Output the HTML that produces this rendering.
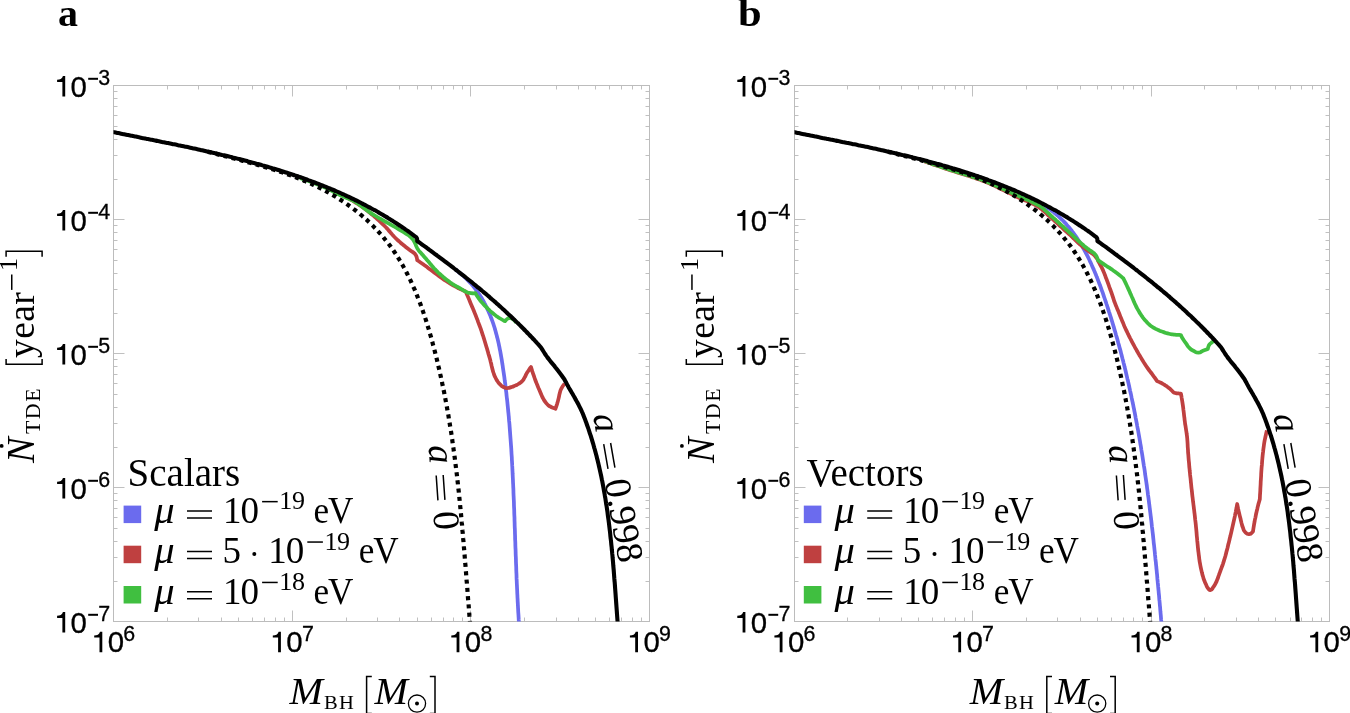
<!DOCTYPE html>
<html lang="en">
<head>
<meta charset="utf-8">
<title>TDE rate vs black hole mass</title>
<style>
html,body{margin:0;padding:0;background:#fff;}
body{width:1350px;height:713px;overflow:hidden;font-family:"Liberation Serif",serif;}
svg{display:block;will-change:transform;}
text{fill:#000;}
</style>
</head>
<body>
<svg width="1350" height="713" viewBox="0 0 1350 713">
<defs>
<clipPath id="clipL"><rect x="113.5" y="85.5" width="536" height="536"/></clipPath>
<clipPath id="clipR"><rect x="794.5" y="85.5" width="535" height="536"/></clipPath>
</defs>
<rect width="1350" height="713" fill="#fff"/>
<text transform="translate(57.9 25.8) scale(1.08 1)" font-family="'Liberation Serif', serif" font-size="37" font-weight="bold">a</text>
<text transform="translate(738 25.8) scale(1.15 1)" font-family="'Liberation Serif', serif" font-size="37" font-weight="bold">b</text>
<path d="M167.5 621.5v-4M167.5 85.5v4M198.5 621.5v-4M198.5 85.5v4M221.5 621.5v-4M221.5 85.5v4M238.5 621.5v-4M238.5 85.5v4M252.5 621.5v-4M252.5 85.5v4M264.5 621.5v-4M264.5 85.5v4M275.5 621.5v-4M275.5 85.5v4M284.5 621.5v-4M284.5 85.5v4M292.5 621.5v-11M292.5 85.5v11M346.5 621.5v-4M346.5 85.5v4M377.5 621.5v-4M377.5 85.5v4M399.5 621.5v-4M399.5 85.5v4M417.5 621.5v-4M417.5 85.5v4M431.5 621.5v-4M431.5 85.5v4M443.5 621.5v-4M443.5 85.5v4M453.5 621.5v-4M453.5 85.5v4M462.5 621.5v-4M462.5 85.5v4M470.5 621.5v-11M470.5 85.5v11M524.5 621.5v-4M524.5 85.5v4M556.5 621.5v-4M556.5 85.5v4M578.5 621.5v-4M578.5 85.5v4M595.5 621.5v-4M595.5 85.5v4M609.5 621.5v-4M609.5 85.5v4M621.5 621.5v-4M621.5 85.5v4M632.5 621.5v-4M632.5 85.5v4M641.5 621.5v-4M641.5 85.5v4M113.5 581.5h4M649.5 581.5h-4M113.5 557.5h4M649.5 557.5h-4M113.5 541.5h4M649.5 541.5h-4M113.5 528.5h4M649.5 528.5h-4M113.5 517.5h4M649.5 517.5h-4M113.5 508.5h4M649.5 508.5h-4M113.5 500.5h4M649.5 500.5h-4M113.5 493.5h4M649.5 493.5h-4M113.5 487.5h11M649.5 487.5h-11M113.5 447.5h4M649.5 447.5h-4M113.5 423.5h4M649.5 423.5h-4M113.5 407.5h4M649.5 407.5h-4M113.5 394.5h4M649.5 394.5h-4M113.5 383.5h4M649.5 383.5h-4M113.5 374.5h4M649.5 374.5h-4M113.5 366.5h4M649.5 366.5h-4M113.5 359.5h4M649.5 359.5h-4M113.5 353.5h11M649.5 353.5h-11M113.5 313.5h4M649.5 313.5h-4M113.5 289.5h4M649.5 289.5h-4M113.5 273.5h4M649.5 273.5h-4M113.5 260.5h4M649.5 260.5h-4M113.5 249.5h4M649.5 249.5h-4M113.5 240.5h4M649.5 240.5h-4M113.5 232.5h4M649.5 232.5h-4M113.5 225.5h4M649.5 225.5h-4M113.5 219.5h11M649.5 219.5h-11M113.5 179.5h4M649.5 179.5h-4M113.5 155.5h4M649.5 155.5h-4M113.5 139.5h4M649.5 139.5h-4M113.5 126.5h4M649.5 126.5h-4M113.5 115.5h4M649.5 115.5h-4M113.5 106.5h4M649.5 106.5h-4M113.5 98.5h4M649.5 98.5h-4M113.5 91.5h4M649.5 91.5h-4" fill="none" stroke="#c0c0c0" stroke-width="1"/>
<rect x="113.5" y="85.5" width="536" height="536" fill="none" stroke="#bcbcbc" stroke-width="1"/>
<g clip-path="url(#clipL)" fill="none" stroke-linejoin="round" stroke-linecap="butt">
<path d="M455 269.3C456.2 270.2 456.2 270.1 458.5 271.9C460.7 273.7 459.6 272.8 461.8 274.6C463.9 276.4 462.9 275.5 464.9 277.4C466.9 279.3 465.9 278.3 467.9 280.3C469.8 282.2 468.8 281.2 470.7 283.3C472.5 285.3 471.6 284.3 473.3 286.3C475 288.4 474.2 287.3 475.8 289.5C477.4 291.6 476.6 290.5 478.1 292.7C479.6 294.9 478.9 293.8 480.3 296C481.7 298.2 481.1 297.1 482.4 299.4C483.7 301.6 483.1 300.5 484.3 302.8C485.6 305.1 485 304 486.1 306.3C487.3 308.7 486.7 307.5 487.8 309.9C488.9 312.3 488.4 311.1 489.4 313.5C490.4 315.9 489.9 314.7 490.9 317.2C491.9 319.7 491.4 318.4 492.3 320.9C493.2 323.4 492.7 322.2 493.6 324.7C494.4 327.2 494 325.9 494.8 328.5C495.5 331.1 495.2 329.8 495.9 332.4C496.6 334.9 496.2 333.6 496.9 336.2C497.6 338.9 497.2 337.5 497.9 340.2C498.5 342.8 498.2 341.5 498.8 344.1C499.3 346.8 499.1 345.4 499.6 348.1C500.1 350.8 499.9 349.4 500.4 352.1C500.9 354.8 500.6 353.4 501.1 356.1C501.6 358.8 501.3 357.5 501.8 360.1C502.2 362.8 502 361.5 502.4 364.2C502.9 366.9 502.6 365.5 503 368.2C503.4 370.9 503.2 369.6 503.6 372.3C504 375 503.8 373.6 504.2 376.3C504.6 379 504.4 377.7 504.7 380.4C505.1 383.1 504.9 381.7 505.3 384.4C505.6 387.1 505.4 385.8 505.8 388.5C506.1 391.2 505.9 389.8 506.3 392.5C506.6 395.2 506.4 393.9 506.7 396.6C507 399.3 506.9 397.9 507.2 400.6C507.5 403.3 507.3 402 507.6 404.7C507.9 407.4 507.7 406 508 408.7C508.3 411.4 508.1 410.1 508.4 412.8C508.7 415.5 508.5 414.1 508.8 416.8C509 419.5 508.9 418.2 509.1 420.9C509.4 423.6 509.3 422.2 509.5 424.9C509.7 427.6 509.6 426.3 509.8 429C510 431.7 509.9 430.3 510.1 433C510.3 435.7 510.2 434.4 510.4 437.1C510.6 439.8 510.5 438.4 510.7 441.1C510.9 443.8 510.8 442.5 511 445.2C511.2 447.9 511.1 446.5 511.3 449.2C511.4 451.9 511.4 450.6 511.5 453.3C511.7 456 511.6 454.6 511.8 457.3C511.9 460 511.8 458.7 512 461.4C512.1 464.1 512.1 462.7 512.2 465.4C512.4 468.1 512.3 466.8 512.4 469.5C512.6 472.2 512.5 470.8 512.6 473.5C512.8 476.3 512.7 474.9 512.8 477.6C513 480.3 512.9 479 513 481.7C513.1 484.4 513.1 483 513.2 485.7C513.3 488.4 513.3 487.1 513.4 489.8C513.5 492.5 513.4 491.1 513.5 493.8C513.6 496.5 513.6 495.2 513.7 497.9C513.8 500.6 513.8 499.2 513.9 501.9C514 504.6 513.9 503.3 514 506C514.1 508.7 514.1 507.3 514.2 510C514.3 512.7 514.2 511.4 514.3 514.1C514.4 516.8 514.4 515.4 514.5 518.1C514.5 520.8 514.5 519.5 514.6 522.2C514.7 524.9 514.6 523.5 514.7 526.2C514.8 528.9 514.8 527.6 514.9 530.3C515 533 514.9 531.6 515 534.3C515.1 537 515.1 535.7 515.1 538.4C515.2 541.1 515.2 539.7 515.3 542.4C515.4 545.1 515.3 543.8 515.4 546.5C515.5 549.2 515.5 547.8 515.6 550.5C515.7 553.3 515.6 551.9 515.7 554.6C515.8 557.3 515.8 556 515.9 558.7C516 561.4 515.9 560 516 562.7C516.1 565.4 516.1 564.1 516.2 566.8C516.3 569.5 516.2 568.1 516.3 570.8C516.4 573.5 516.4 572.2 516.5 574.9C516.6 577.6 516.5 576.2 516.6 578.9C516.8 581.6 516.7 580.3 516.8 583C516.9 585.7 516.9 584.3 517 587C517.1 589.7 517.1 588.4 517.2 591.1C517.3 593.8 517.2 592.4 517.4 595.1C517.5 597.8 517.4 596.5 517.6 599.2C517.7 601.9 517.6 600.5 517.8 603.2C517.9 605.9 517.9 604.6 518 607.3C518.2 610 518.1 608.6 518.2 611.3C518.4 614 518.3 612.7 518.5 615.4C518.6 618.1 518.6 616.7 518.7 619.4C518.9 622.1 518.9 622.1 519 623.5" stroke="#6b6bee" stroke-width="3.75"/>
<path d="M340 194C341.3 194.6 341.3 194.6 343.8 195.9C346.3 197.2 345.1 196.5 347.6 197.9C350.1 199.2 348.8 198.5 351.3 200C353.7 201.4 352.5 200.6 354.9 202.1C357.3 203.6 356.1 202.9 358.5 204.4C360.8 206 359.6 205.2 361.9 206.8C364.3 208.5 363.1 207.7 365.4 209.3C367.7 211 366.5 210.2 368.8 211.9C371 213.6 369.9 212.7 372.1 214.6C374.2 216.4 373.2 215.5 375.3 217.4C377.4 219.2 376.3 218.3 378.4 220.2C380.5 222.1 379.5 221.1 381.5 223.1C383.6 225 382.6 224 384.6 226C386.6 228 385.6 227 387.5 229.1C389.4 231.2 388.5 230.1 390.3 232.3C392.2 234.4 391.2 233.4 393.1 235.5C395 237.6 394 236.6 396 238.5C398 240.5 397 239.5 399.1 241.4C401.3 243.3 400.2 242.4 402.4 244.2C404.5 246 403.4 245.1 405.7 246.9C407.9 248.6 406.8 247.8 409 249.4C411.3 251.1 411.3 251.1 412.5 251.9C413.1 252.3 413.2 252.3 414.2 253.2C415.2 254.1 414.8 253.7 415.5 254.7C416.2 255.7 415.9 255.2 416.3 256.3C416.8 257.5 416.6 256.9 416.9 258.2C417.2 259.5 417.1 259.5 417.2 260.2C418.4 261 418.4 261 420.9 262.7C423.3 264.4 422.1 263.5 424.5 265.3C426.9 267 425.7 266.1 428.1 267.9C430.4 269.7 429.2 268.8 431.6 270.6C434 272.4 432.8 271.5 435.2 273.2C437.6 275 436.4 274.1 438.8 275.9C441.2 277.6 440 276.8 442.4 278.5C444.8 280.2 443.6 279.4 446.1 281C448.5 282.6 447.3 281.9 449.8 283.4C452.3 284.9 451 284.1 453.6 285.6C456.2 287 454.9 286.3 457.5 287.7C460.2 289 458.8 288.4 461.5 289.6C464.2 290.9 464.2 290.9 465.6 291.5C466.2 292.8 466.2 292.8 467.3 295.3C468.4 297.8 467.8 296.6 468.9 299.1C470 301.6 469.4 300.4 470.5 302.9C471.6 305.5 471.1 304.2 472.1 306.7C473.2 309.3 472.7 308 473.7 310.6C474.8 313.1 474.2 311.8 475.3 314.4C476.3 317 475.8 315.7 476.8 318.3C477.8 320.8 477.3 319.5 478.2 322.1C479.2 324.7 478.7 323.4 479.7 326C480.6 328.6 480.2 327.3 481.1 329.9C482 332.5 481.5 331.2 482.4 333.8C483.3 336.5 482.8 335.1 483.7 337.8C484.5 340.4 484.1 339.1 484.9 341.7C485.7 344.4 485.3 343 486.1 345.7C486.9 348.3 486.5 347 487.3 349.7C488 352.3 487.7 351 488.4 353.7C489.2 356.3 488.8 355 489.6 357.6C490.3 360.3 490 358.9 490.6 361.6C491.3 364.3 491 363 491.6 365.7C492.3 368.4 491.9 367.1 492.6 369.8C493.3 372.4 492.9 371.1 493.8 373.7C494.7 376.3 494.1 375 495.4 377.5C496.6 380 496 379 497.5 381.3C499.1 383.6 498.1 382.5 500.1 384.4C502.1 386.3 501 385.8 503.4 387C505.8 388.2 504.7 388 507.3 388.1C509.9 388.1 508.7 387.9 511.3 387.1C514 386.3 512.7 386.7 515.2 385.6C517.8 384.4 516.7 385.1 519 383.6C521.4 382 520.5 383 522.3 381C524.2 379 523.1 380 524.5 377.6C525.9 375.3 525.1 376.3 526.4 373.9C527.8 371.5 527.1 372.7 528.6 370.4C530.1 368.1 530.2 368.1 531 367C531.4 368.5 531.4 368.5 532.3 371.4C533.3 374.3 532.8 372.8 533.8 375.7C534.8 378.6 534.3 377.2 535.3 380C536.4 382.9 535.8 381.4 537 384.3C538.1 387.1 537.6 385.7 538.7 388.5C539.9 391.3 539.3 389.9 540.5 392.7C541.7 395.5 541 394.2 542.3 396.9C543.7 399.7 542.9 398.3 544.6 400.9C546.3 403.4 545.4 402.5 547.5 404.5C549.7 406.6 548.4 405.6 551.1 407C553.8 408.4 554 408.1 555.5 408.7C556.1 407 556.1 407 557.2 403.6C558.2 400.1 557.7 401.9 558.6 398.4C559.5 394.9 558.8 396.5 559.8 393C560.8 389.6 560 391.2 561.6 388.1C563.2 384.9 563.7 385.1 564.7 383.6" stroke="#bf4040" stroke-width="3.75"/>
<path d="M300 178C301.3 178.5 301.3 178.4 303.9 179.4C306.5 180.3 305.2 179.8 307.8 180.8C310.4 181.8 309.1 181.3 311.7 182.3C314.2 183.3 313 182.8 315.5 183.8C318.1 184.8 316.8 184.3 319.4 185.3C321.9 186.4 320.7 185.8 323.2 186.9C325.7 188 324.5 187.4 327 188.6C329.5 189.8 328.2 189.2 330.7 190.4C333.2 191.6 331.9 191 334.4 192.3C336.9 193.5 335.6 192.9 338.1 194.1C340.6 195.3 339.3 194.7 341.9 195.8C344.4 196.9 343.1 196.4 345.7 197.4C348.3 198.5 347 197.9 349.5 199C352.1 200.2 350.8 199.5 353.3 200.8C355.7 202.1 354.5 201.4 356.8 202.9C359.1 204.3 357.9 203.6 360.2 205.2C362.4 206.9 361.3 206.1 363.5 207.7C365.7 209.4 364.6 208.6 366.8 210.3C369 211.9 367.9 211.1 370.2 212.6C372.5 214.2 371.4 213.4 373.7 214.8C376.1 216.3 374.9 215.6 377.3 217C379.6 218.4 378.4 217.7 380.8 219C383.2 220.4 382 219.7 384.4 221.1C386.8 222.5 385.6 221.8 388 223.2C390.4 224.5 389.2 223.9 391.6 225.2C394 226.6 392.8 225.9 395.2 227.2C397.6 228.6 396.5 227.9 398.8 229.3C401.2 230.7 400 230 402.4 231.4C404.8 232.8 403.6 232.1 405.9 233.6C408.2 235 408.2 235.1 409.4 235.8C410.4 236.8 410.7 236.7 412.4 238.9C414.2 241.1 413.4 240 414.7 242.5C416.1 245 415.2 243.9 416.4 246.5C417.7 249.1 416.8 247.9 418.5 250.2C420.1 252.5 419.5 251.3 421.4 253.4C423.3 255.6 422.3 254.5 424.2 256.7C426.1 258.9 425.2 257.8 427 260C428.9 262.1 428 261 429.8 263.2C431.7 265.4 430.7 264.4 432.6 266.6C434.5 268.7 433.5 267.7 435.5 269.7C437.4 271.8 436.4 270.8 438.5 272.8C440.6 274.7 439.6 273.8 441.7 275.7C443.9 277.6 442.8 276.7 445 278.5C447.2 280.3 446.1 279.4 448.4 281.1C450.7 282.8 449.5 282 451.9 283.6C454.3 285.1 453.1 284.4 455.6 285.8C458.1 287.3 456.8 286.5 459.4 287.9C461.9 289.4 460.6 288.7 463.1 290.2C465.7 291.6 464.4 291.3 467 292.3C469.6 293.3 468.2 292.8 471 293.1C473.9 293.4 473.9 293.2 475.4 293.2C476.2 294.5 476.1 294.6 477.9 297.1C479.6 299.6 478.7 298.4 480.5 300.8C482.4 303.2 481.4 302 483.5 304.3C485.5 306.6 484.5 305.4 486.7 307.6C488.8 309.8 487.7 308.7 490 310.8C492.3 312.8 491.1 311.9 493.5 313.8C495.8 315.7 494.6 314.8 497.1 316.5C499.6 318.2 498.3 317.4 501 319C503.6 320.5 503.7 320.5 505 321.2C505.7 320.5 505.7 320 507.2 319C508.7 318 508 318.3 509.4 318.1C510.9 317.9 510.2 317.9 511.6 318.5C513.1 319.1 512.4 318.6 513.8 319.9C515.3 321.2 515.3 321.6 516 322.5" stroke="#40bf40" stroke-width="3.75"/>
<path d="M203.4 150.6C204.7 150.9 204.7 150.9 207.2 151.6C209.7 152.3 208.5 151.9 211 152.6C213.6 153.2 212.3 152.9 214.8 153.6C217.4 154.2 216.1 153.9 218.7 154.6C221.3 155.2 220 154.9 222.6 155.5C225.1 156.2 223.8 155.9 226.4 156.5C229 157.2 227.7 156.9 230.3 157.5C232.9 158.2 231.6 157.9 234.2 158.5C236.8 159.2 235.5 158.9 238.1 159.5C240.7 160.2 239.4 159.9 242 160.6C244.6 161.3 243.3 160.9 246 161.6C248.6 162.3 247.3 162 249.9 162.7C252.5 163.4 251.2 163 253.8 163.8C256.4 164.5 255.1 164.1 257.7 164.9C260.3 165.6 259 165.2 261.6 166C264.2 166.8 262.9 166.4 265.5 167.2C268.1 167.9 266.8 167.5 269.4 168.3C272 169.1 270.7 168.7 273.3 169.5C275.9 170.4 274.6 170 277.2 170.8C279.8 171.6 278.5 171.2 281.1 172.1C283.7 173 282.4 172.5 284.9 173.4C287.5 174.3 286.2 173.8 288.8 174.8C291.3 175.7 290.1 175.2 292.6 176.2C295.1 177.1 293.9 176.6 296.4 177.6C298.9 178.6 297.7 178.1 300.2 179.1C302.7 180.1 301.4 179.6 303.9 180.7C306.4 181.7 305.2 181.2 307.7 182.3C310.1 183.4 308.9 182.8 311.4 183.9C313.8 185.1 312.6 184.5 315 185.7C317.5 186.8 316.3 186.2 318.7 187.4C321.1 188.6 319.9 188 322.3 189.3C324.7 190.5 323.5 189.9 325.9 191.2C328.2 192.4 327.1 191.8 329.4 193.1C331.8 194.4 330.6 193.8 332.9 195.1C335.2 196.5 334.1 195.8 336.4 197.2C338.7 198.6 337.5 197.9 339.8 199.4C342.1 200.8 340.9 200.1 343.2 201.6C345.4 203.1 344.3 202.3 346.5 203.8C348.7 205.4 347.6 204.6 349.8 206.2C351.9 207.7 350.9 207 353 208.6C355.1 210.2 354.1 209.4 356.2 211C358.3 212.7 357.2 211.8 359.3 213.5C361.4 215.2 360.3 214.4 362.4 216.1C364.4 217.8 363.4 217 365.4 218.7C367.4 220.5 366.4 219.6 368.3 221.4C370.3 223.2 369.3 222.3 371.2 224.2C373.1 226 372.2 225.1 374 227C375.9 228.9 375 227.9 376.8 229.8C378.6 231.8 377.7 230.8 379.5 232.8C381.2 234.7 380.4 233.7 382.1 235.7C383.8 237.7 383 236.7 384.6 238.8C386.3 240.8 385.5 239.8 387.1 241.9C388.7 244 387.9 242.9 389.5 245C391.1 247.1 390.3 246.1 391.8 248.2C393.4 250.4 392.6 249.3 394.1 251.5C395.6 253.7 394.8 252.6 396.3 254.8C397.7 257 397 255.9 398.4 258.1C399.8 260.4 399.1 259.3 400.5 261.5C401.8 263.8 401.2 262.7 402.5 265C403.8 267.3 403.1 266.1 404.4 268.5C405.7 270.8 405.1 269.6 406.3 272C407.5 274.4 406.9 273.2 408.1 275.6C409.3 278 408.7 276.8 409.9 279.2C411 281.6 410.5 280.4 411.6 282.8C412.7 285.2 412.2 284 413.2 286.5C414.3 288.9 413.8 287.7 414.9 290.2C415.9 292.7 415.4 291.4 416.4 293.9C417.4 296.4 416.9 295.1 417.9 297.7C418.9 300.2 418.4 298.9 419.4 301.4C420.3 304 419.9 302.7 420.8 305.3C421.7 307.8 421.3 306.5 422.2 309.1C423.1 311.6 422.6 310.4 423.5 312.9C424.4 315.5 424 314.2 424.8 316.8C425.7 319.4 425.3 318.1 426.1 320.7C426.9 323.3 426.5 322 427.3 324.6C428.1 327.2 427.7 325.9 428.5 328.5C429.3 331.1 428.9 329.8 429.6 332.4C430.4 335 430 333.7 430.8 336.3C431.5 339 431.1 337.7 431.9 340.3C432.6 342.9 432.2 341.6 432.9 344.2C433.6 346.9 433.3 345.5 434 348.2C434.7 350.8 434.3 349.5 435 352.1C435.7 354.8 435.3 353.4 436 356.1C436.7 358.7 436.3 357.4 437 360C437.6 362.7 437.3 361.3 437.9 364C438.5 366.6 438.2 365.3 438.8 367.9C439.5 370.6 439.2 369.2 439.7 371.9C440.3 374.5 440 373.2 440.6 375.8C441.2 378.5 440.9 377.2 441.5 379.8C442.1 382.4 441.8 381.1 442.3 383.7C442.9 386.4 442.6 385.1 443.2 387.7C443.7 390.3 443.4 389 444 391.7C444.5 394.3 444.2 393 444.7 395.6C445.2 398.3 445 396.9 445.5 399.6C446 402.2 445.7 400.9 446.2 403.5C446.7 406.2 446.5 404.9 447 407.5C447.4 410.2 447.2 408.8 447.7 411.5C448.1 414.1 447.9 412.8 448.4 415.4C448.8 418.1 448.6 416.8 449 419.4C449.5 422.1 449.3 420.7 449.7 423.4C450.1 426 449.9 424.7 450.3 427.3C450.7 430 450.5 428.7 451 431.3C451.4 434 451.2 432.6 451.6 435.3C452 437.9 451.8 436.6 452.2 439.3C452.5 441.9 452.3 440.6 452.7 443.2C453.1 445.9 452.9 444.6 453.3 447.2C453.7 449.9 453.5 448.5 453.8 451.2C454.2 453.8 454 452.5 454.4 455.2C454.7 457.8 454.6 456.5 454.9 459.1C455.2 461.8 455.1 460.5 455.4 463.1C455.7 465.8 455.6 464.4 455.9 467.1C456.2 469.8 456.1 468.4 456.4 471.1C456.7 473.7 456.6 472.4 456.9 475.1C457.2 477.7 457 476.4 457.3 479.1C457.6 481.7 457.5 480.4 457.8 483C458.1 485.7 457.9 484.4 458.2 487C458.5 489.7 458.4 488.4 458.7 491C459 493.7 458.8 492.3 459.1 495C459.4 497.7 459.2 496.3 459.5 499C459.8 501.7 459.6 500.3 459.9 503C460.2 505.7 460 504.3 460.3 507C460.6 509.7 460.4 508.3 460.7 511C461 513.6 460.8 512.3 461.1 515C461.3 517.6 461.2 516.3 461.5 519C461.7 521.6 461.6 520.3 461.8 523C462.1 525.6 462 524.3 462.2 527C462.4 529.7 462.3 528.3 462.5 531C462.8 533.7 462.7 532.3 462.9 535C463.1 537.7 463 536.3 463.2 539C463.5 541.7 463.4 540.3 463.6 543C463.8 545.7 463.7 544.3 463.9 547C464.2 549.7 464 548.4 464.3 551C464.5 553.7 464.4 552.4 464.6 555C464.8 557.7 464.7 556.4 464.9 559.1C465.1 561.7 465 560.4 465.2 563.1C465.5 565.7 465.4 564.4 465.6 567.1C465.8 569.8 465.7 568.4 465.9 571.1C466.1 573.8 466 572.4 466.2 575.1C466.4 577.8 466.3 576.5 466.5 579.1C466.7 581.8 466.6 580.5 466.9 583.2C467.1 585.9 467 584.5 467.2 587.2C467.4 589.9 467.3 588.5 467.5 591.2C467.7 593.9 467.6 592.6 467.8 595.3C468 597.9 467.9 596.6 468.1 599.3C468.3 602 468.2 600.6 468.5 603.3C468.7 606 468.6 604.7 468.8 607.3C469 610 468.9 608.7 469.1 611.4C469.3 614.1 469.2 612.7 469.4 615.4C469.7 618.1 469.5 616.8 469.8 619.5C470 622.2 470 622.2 470.1 623.5" stroke="#000" stroke-width="4.2" stroke-dasharray="4.1 4.2" stroke-dashoffset="4"/>
<path d="M110.5 131.5C111.8 131.8 111.8 131.8 114.4 132.3C117.1 132.8 115.8 132.6 118.4 133.1C121 133.6 119.7 133.4 122.4 133.9C125 134.4 123.7 134.2 126.3 134.7C129 135.2 127.6 135 130.3 135.5C132.9 136 131.6 135.7 134.3 136.3C136.9 136.8 135.6 136.5 138.2 137.1C140.9 137.6 139.6 137.3 142.2 137.9C144.9 138.4 143.5 138.1 146.2 138.7C148.8 139.2 147.5 138.9 150.2 139.5C152.8 140 151.5 139.7 154.2 140.3C156.8 140.8 155.5 140.5 158.2 141.1C160.8 141.6 159.5 141.3 162.2 141.9C164.8 142.4 163.5 142.1 166.2 142.7C168.8 143.2 167.5 143 170.2 143.5C172.8 144 171.5 143.8 174.2 144.3C176.8 144.9 175.5 144.6 178.2 145.2C180.8 145.7 179.5 145.4 182.2 146C184.8 146.6 183.5 146.3 186.2 146.8C188.8 147.4 187.5 147.1 190.2 147.7C192.8 148.3 191.5 148 194.2 148.5C196.8 149.1 195.5 148.8 198.2 149.4C200.8 150 199.5 149.7 202.2 150.3C204.8 150.9 203.5 150.6 206.1 151.2C208.8 151.8 207.5 151.5 210.1 152.1C212.8 152.7 211.5 152.4 214.1 153C216.8 153.6 215.5 153.3 218.1 153.9C220.8 154.6 219.5 154.2 222.1 154.9C224.8 155.5 223.4 155.2 226.1 155.8C228.7 156.5 227.4 156.1 230.1 156.8C232.7 157.4 231.4 157.1 234 157.8C236.7 158.4 235.4 158.1 238 158.8C240.7 159.4 239.3 159.1 242 159.8C244.6 160.5 243.3 160.1 245.9 160.8C248.6 161.5 247.2 161.2 249.9 161.9C252.5 162.6 251.2 162.2 253.8 162.9C256.5 163.7 255.1 163.3 257.8 164C260.4 164.7 259.1 164.4 261.7 165.1C264.3 165.9 263 165.5 265.6 166.2C268.2 167 266.9 166.6 269.5 167.4C272.1 168.2 270.8 167.8 273.4 168.6C276.1 169.3 274.8 168.9 277.4 169.7C279.9 170.5 278.7 170.1 281.2 170.9C283.8 171.8 282.5 171.4 285.1 172.2C287.7 173 286.4 172.6 289 173.4C291.6 174.3 290.3 173.9 292.9 174.7C295.4 175.6 294.2 175.1 296.7 176C299.3 176.9 298 176.4 300.6 177.3C303.1 178.2 301.8 177.8 304.4 178.7C306.9 179.6 305.7 179.1 308.2 180.1C310.8 181 309.5 180.5 312 181.5C314.6 182.4 313.3 182 315.8 182.9C318.3 183.9 317.1 183.4 319.6 184.4C322.1 185.4 320.9 184.9 323.4 185.9C325.9 186.9 324.6 186.4 327.1 187.4C329.6 188.4 328.4 187.9 330.9 189C333.4 190 332.1 189.5 334.6 190.5C337.1 191.6 335.8 191.1 338.3 192.1C340.8 193.2 339.6 192.7 342 193.8C344.5 194.9 343.3 194.3 345.7 195.5C348.2 196.6 346.9 196 349.4 197.2C351.8 198.3 350.6 197.8 353 198.9C355.5 200.1 354.2 199.5 356.7 200.7C359.1 201.9 357.9 201.3 360.3 202.5C362.7 203.7 361.5 203.1 363.9 204.4C366.3 205.6 365.1 205 367.5 206.3C369.9 207.5 368.7 206.9 371.1 208.2C373.4 209.5 372.2 208.8 374.6 210.1C377 211.5 375.8 210.8 378.1 212.1C380.5 213.5 379.3 212.8 381.7 214.2C384 215.5 382.8 214.9 385.2 216.3C387.5 217.6 386.3 216.9 388.6 218.4C390.9 219.8 389.8 219.1 392.1 220.5C394.4 222 393.2 221.2 395.5 222.7C397.8 224.2 396.7 223.5 398.9 225C401.2 226.5 400.1 225.7 402.3 227.2C404.6 228.8 403.5 228 405.7 229.6C408 231.1 406.8 230.3 409.1 231.9C411.3 233.5 410.2 232.7 412.4 234.3C414.6 236 414.6 236 415.7 236.8C415.9 237 416 237 416.4 237.5C416.8 238 416.6 237.8 416.9 238.3C417.1 238.8 417 238.6 417.1 239.1C417.2 239.7 417.1 239.4 417.2 240C417.2 240.7 417.2 240.7 417.2 241C418.3 241.8 418.3 241.8 420.6 243.4C422.9 245.1 421.7 244.3 424 245.9C426.3 247.5 425.1 246.7 427.4 248.4C429.6 250 428.5 249.2 430.8 250.8C433 252.5 431.9 251.7 434.1 253.3C436.4 255 435.3 254.1 437.5 255.8C439.8 257.5 438.6 256.6 440.9 258.3C443.1 260 442 259.2 444.2 260.8C446.5 262.5 445.3 261.7 447.6 263.4C449.8 265.1 448.7 264.2 450.9 265.9C453.1 267.6 452 266.8 454.2 268.5C456.4 270.2 455.3 269.3 457.5 271C459.7 272.7 458.6 271.9 460.8 273.6C463 275.3 461.9 274.5 464.1 276.2C466.3 277.9 465.2 277.1 467.4 278.8C469.6 280.6 468.5 279.7 470.7 281.4C472.9 283.2 471.8 282.3 473.9 284.1C476.1 285.9 475 285 477.2 286.8C479.3 288.5 478.3 287.6 480.4 289.4C482.5 291.2 481.5 290.3 483.6 292.1C485.7 293.9 484.7 293 486.8 294.8C488.9 296.7 487.9 295.7 490 297.6C492.1 299.4 491 298.5 493.1 300.3C495.2 302.2 494.2 301.2 496.3 303.1C498.4 304.9 497.3 304 499.4 305.9C501.5 307.7 500.4 306.8 502.5 308.7C504.6 310.6 503.5 309.6 505.6 311.5C507.6 313.4 506.6 312.5 508.7 314.4C510.7 316.3 509.7 315.3 511.7 317.2C513.7 319.2 512.7 318.2 514.7 320.1C516.7 322.1 515.7 321.1 517.7 323.1C519.7 325 518.7 324 520.7 326C522.7 328 521.7 327 523.7 329C525.6 331 524.7 330 526.6 332C528.5 334 527.6 333 529.5 335C531.4 337 530.5 336 532.4 338C534.3 340.1 533.4 339 535.3 341.1C537.2 343.1 536.2 342.1 538.1 344.2C540 346.3 540 346.3 540.9 347.3C541.8 348.7 541.7 348.7 543.5 351.5C545.3 354.2 544.4 352.9 546.2 355.6C548.1 358.3 547.1 357 549.1 359.6C551.1 362.2 550.1 360.9 552.2 363.4C554.3 366 553.3 364.6 555.3 367.2C557.4 369.8 556.3 368.5 558.3 371.1C560.3 373.7 559.3 372.4 561.3 375C563.2 377.7 563.2 377.7 564.2 379C564.9 380.4 564.9 380.4 566.4 383.1C567.8 385.9 567.1 384.5 568.6 387.2C570.2 389.9 569.4 388.6 571 391.3C572.5 394 571.8 392.6 573.3 395.3C574.9 398 574.1 396.7 575.6 399.4C577.2 402.1 576.4 400.7 577.9 403.5C579.3 406.2 578.6 404.8 580 407.6C581.4 410.4 580.8 409 582 411.9C583.3 414.7 583.2 414.8 583.8 416.2C584.3 417.5 584.3 417.5 585.3 420.1C586.2 422.7 585.8 421.4 586.7 424C587.6 426.6 587.2 425.3 588.1 427.9C589 430.5 588.5 429.2 589.4 431.8C590.2 434.4 589.8 433.1 590.7 435.7C591.5 438.4 591.1 437 591.9 439.7C592.7 442.3 592.3 441 593.1 443.6C593.8 446.3 593.5 445 594.2 447.6C595 450.3 594.6 448.9 595.3 451.6C596 454.2 595.7 452.9 596.4 455.6C597.1 458.2 596.7 456.9 597.4 459.6C598.1 462.2 597.7 460.9 598.4 463.6C599 466.2 598.7 464.9 599.3 467.6C599.9 470.3 599.6 468.9 600.2 471.6C600.8 474.3 600.5 473 601.1 475.7C601.6 478.3 601.4 477 601.9 479.7C602.5 482.4 602.2 481 602.7 483.7C603.2 486.4 603 485.1 603.5 487.8C604 490.5 603.7 489.2 604.2 491.9C604.7 494.6 604.5 493.2 604.9 495.9C605.4 498.7 605.2 497.3 605.6 500C606 502.7 605.8 501.4 606.2 504.1C606.7 506.8 606.5 505.5 606.9 508.2C607.3 510.9 607.1 509.6 607.5 512.3C607.8 515 607.7 513.7 608 516.4C608.4 519.1 608.2 517.8 608.6 520.5C608.9 523.2 608.8 521.9 609.1 524.6C609.4 527.3 609.3 526 609.6 528.7C609.9 531.5 609.8 530.1 610.1 532.8C610.4 535.6 610.2 534.2 610.5 537C610.8 539.7 610.7 538.3 611 541.1C611.3 543.8 611.1 542.4 611.4 545.2C611.7 547.9 611.6 546.6 611.8 549.3C612.1 552.1 612 550.7 612.2 553.4C612.5 556.2 612.4 554.8 612.6 557.6C612.9 560.3 612.7 559 613 561.7C613.2 564.5 613.1 563.1 613.3 565.8C613.6 568.6 613.4 567.2 613.7 570C613.9 572.7 613.8 571.3 614 574.1C614.2 576.9 614.1 575.5 614.3 578.2C614.6 581 614.4 579.6 614.7 582.4C614.9 585.1 614.8 583.7 615 586.5C615.2 589.2 615.1 587.9 615.3 590.6C615.5 593.4 615.4 592 615.6 594.7C615.8 597.5 615.7 596.1 615.9 598.8C616.1 601.6 616 600.2 616.2 603C616.4 605.7 616.3 604.3 616.5 607.1C616.7 609.8 616.6 608.5 616.8 611.2C617 613.9 616.9 612.6 617.1 615.3C617.3 618 617.2 616.7 617.4 619.4C617.6 622.1 617.6 622.1 617.7 623.5" stroke="#000" stroke-width="4.1"/>
</g>
<path transform="translate(57.1 96.5)" d="M8.1 -20.4V0H5.3V-14.6H0V-16.7C2.8 -16.7 5.1 -17.6 5.85 -20.4Z" fill="#000"/>
<text x="70.6" y="96.5" font-family="'Liberation Sans', sans-serif" stroke="#000" stroke-width="0.3" font-size="29.4">0</text>
<rect x="88.2" y="77.8" width="9.8" height="2" fill="#000"/>
<text x="98.3" y="84.9" font-family="'Liberation Sans', sans-serif" stroke="#000" stroke-width="0.3" font-size="21.4">3</text>
<path transform="translate(57.1 230.5)" d="M8.1 -20.4V0H5.3V-14.6H0V-16.7C2.8 -16.7 5.1 -17.6 5.85 -20.4Z" fill="#000"/>
<text x="70.6" y="230.5" font-family="'Liberation Sans', sans-serif" stroke="#000" stroke-width="0.3" font-size="29.4">0</text>
<rect x="88.2" y="211.8" width="9.8" height="2" fill="#000"/>
<text x="98.3" y="218.9" font-family="'Liberation Sans', sans-serif" stroke="#000" stroke-width="0.3" font-size="21.4">4</text>
<path transform="translate(57.1 364.5)" d="M8.1 -20.4V0H5.3V-14.6H0V-16.7C2.8 -16.7 5.1 -17.6 5.85 -20.4Z" fill="#000"/>
<text x="70.6" y="364.5" font-family="'Liberation Sans', sans-serif" stroke="#000" stroke-width="0.3" font-size="29.4">0</text>
<rect x="88.2" y="345.8" width="9.8" height="2" fill="#000"/>
<text x="98.3" y="352.9" font-family="'Liberation Sans', sans-serif" stroke="#000" stroke-width="0.3" font-size="21.4">5</text>
<path transform="translate(57.1 498.5)" d="M8.1 -20.4V0H5.3V-14.6H0V-16.7C2.8 -16.7 5.1 -17.6 5.85 -20.4Z" fill="#000"/>
<text x="70.6" y="498.5" font-family="'Liberation Sans', sans-serif" stroke="#000" stroke-width="0.3" font-size="29.4">0</text>
<rect x="88.2" y="479.8" width="9.8" height="2" fill="#000"/>
<text x="98.3" y="486.9" font-family="'Liberation Sans', sans-serif" stroke="#000" stroke-width="0.3" font-size="21.4">6</text>
<path transform="translate(57.1 632.5)" d="M8.1 -20.4V0H5.3V-14.6H0V-16.7C2.8 -16.7 5.1 -17.6 5.85 -20.4Z" fill="#000"/>
<text x="70.6" y="632.5" font-family="'Liberation Sans', sans-serif" stroke="#000" stroke-width="0.3" font-size="29.4">0</text>
<rect x="88.2" y="613.8" width="9.8" height="2" fill="#000"/>
<text x="98.3" y="620.9" font-family="'Liberation Sans', sans-serif" stroke="#000" stroke-width="0.3" font-size="21.4">7</text>
<path transform="translate(94.2 652.2)" d="M8.1 -20.4V0H5.3V-14.6H0V-16.7C2.8 -16.7 5.1 -17.6 5.85 -20.4Z" fill="#000"/>
<text x="107.7" y="652.2" font-family="'Liberation Sans', sans-serif" stroke="#000" stroke-width="0.3" font-size="29.4">0</text>
<text x="123.3" y="640.7" font-family="'Liberation Sans', sans-serif" stroke="#000" stroke-width="0.3" font-size="21.4">6</text>
<path transform="translate(272.8 652.2)" d="M8.1 -20.4V0H5.3V-14.6H0V-16.7C2.8 -16.7 5.1 -17.6 5.85 -20.4Z" fill="#000"/>
<text x="286.2" y="652.2" font-family="'Liberation Sans', sans-serif" stroke="#000" stroke-width="0.3" font-size="29.4">0</text>
<text x="301.9" y="640.7" font-family="'Liberation Sans', sans-serif" stroke="#000" stroke-width="0.3" font-size="21.4">7</text>
<path transform="translate(451.3 652.2)" d="M8.1 -20.4V0H5.3V-14.6H0V-16.7C2.8 -16.7 5.1 -17.6 5.85 -20.4Z" fill="#000"/>
<text x="464.8" y="652.2" font-family="'Liberation Sans', sans-serif" stroke="#000" stroke-width="0.3" font-size="29.4">0</text>
<text x="480.4" y="640.7" font-family="'Liberation Sans', sans-serif" stroke="#000" stroke-width="0.3" font-size="21.4">8</text>
<path transform="translate(629.9 652.2)" d="M8.1 -20.4V0H5.3V-14.6H0V-16.7C2.8 -16.7 5.1 -17.6 5.85 -20.4Z" fill="#000"/>
<text x="643.4" y="652.2" font-family="'Liberation Sans', sans-serif" stroke="#000" stroke-width="0.3" font-size="29.4">0</text>
<text x="659" y="640.7" font-family="'Liberation Sans', sans-serif" stroke="#000" stroke-width="0.3" font-size="21.4">9</text>
<rect x="123.6" y="505.6" width="17.6" height="17.5" fill="#6b6bee"/>
<rect x="123.6" y="545.7" width="17.6" height="17.5" fill="#bf4040"/>
<rect x="123.6" y="586" width="17.6" height="17.5" fill="#40bf40"/>
<text x="127.6" y="486.2" font-family="'Liberation Serif', serif" font-size="39">Scalars</text>
<text transform="translate(154.3 522.8) scale(1.1 1)" font-family="'Liberation Serif', serif" font-size="37" font-style="italic">μ</text>
<path d="M187 511h25M187 518h25" stroke="#000" stroke-width="1.5" fill="none"/>
<text x="223" y="522.8" font-family="'Liberation Serif', serif" font-size="37" letter-spacing="-1">10</text>
<rect x="262.1" y="500.9" width="15.6" height="1.5" fill="#000"/>
<text x="279.3" y="509.1" font-family="'Liberation Serif', serif" font-size="26" letter-spacing="-0.4">19</text>
<text transform="translate(313.6 522.8) scale(0.95 1)" font-family="'Liberation Serif', serif" font-size="37" letter-spacing="-1.2">eV</text>
<text transform="translate(154.3 563.2) scale(1.1 1)" font-family="'Liberation Serif', serif" font-size="37" font-style="italic">μ</text>
<path d="M187 551.4h25M187 558.4h25" stroke="#000" stroke-width="1.5" fill="none"/>
<text x="222.6" y="563.2" font-family="'Liberation Serif', serif" font-size="37">5</text>
<circle cx="254.3" cy="554" r="2" fill="#000"/>
<text x="268.2" y="563.2" font-family="'Liberation Serif', serif" font-size="37" letter-spacing="-1">10</text>
<rect x="307.3" y="541.3" width="15.6" height="1.5" fill="#000"/>
<text x="324.5" y="549.5" font-family="'Liberation Serif', serif" font-size="26" letter-spacing="-0.4">19</text>
<text transform="translate(358.8 563.2) scale(0.95 1)" font-family="'Liberation Serif', serif" font-size="37" letter-spacing="-1.2">eV</text>
<text transform="translate(154.3 603.6) scale(1.1 1)" font-family="'Liberation Serif', serif" font-size="37" font-style="italic">μ</text>
<path d="M187 591.8h25M187 598.8h25" stroke="#000" stroke-width="1.5" fill="none"/>
<text x="223" y="603.6" font-family="'Liberation Serif', serif" font-size="37" letter-spacing="-1">10</text>
<rect x="262.1" y="581.7" width="15.6" height="1.5" fill="#000"/>
<text x="279.3" y="589.9" font-family="'Liberation Serif', serif" font-size="26" letter-spacing="-0.4">18</text>
<text transform="translate(313.6 603.6) scale(0.95 1)" font-family="'Liberation Serif', serif" font-size="37" letter-spacing="-1.2">eV</text>
<g transform="translate(428.6 445.7) rotate(86)">
<text x="0" y="0" font-family="'Liberation Serif', serif" font-size="37.5" font-style="italic">a</text>
<path d="M30.2 -12.5h25M30.2 -5.5h25" stroke="#000" stroke-width="1.5" fill="none"/>
<text x="66.5" y="0" font-family="'Liberation Serif', serif" font-size="37.5">0</text>
</g>
<g transform="translate(593.1 415.4) rotate(80.1)">
<text x="0" y="0" font-family="'Liberation Serif', serif" font-size="37.5" font-style="italic">a</text>
<path d="M30.2 -12.5h25M30.2 -5.5h25" stroke="#000" stroke-width="1.5" fill="none"/>
<text x="66.5" y="0" font-family="'Liberation Serif', serif" font-size="37.5" letter-spacing="0">0.998</text>
</g>
<g transform="translate(33.7 464.5) rotate(-90)">
<text transform="translate(1.6 0) scale(0.96 1)" font-family="'Liberation Serif', serif" font-size="40" font-style="italic">N</text>
<circle cx="18.6" cy="-32" r="1.9" fill="#000"/>
<text transform="translate(30.4 5.9) scale(1.07 1)" font-family="'Liberation Serif', serif" font-size="20.4" letter-spacing="1.5">TDE</text>
<path d="M105.6 -27.6h-5.4v36h5.4" fill="none" stroke="#000" stroke-width="1.5"/>
<text x="106.6" y="0" font-family="'Liberation Serif', serif" font-size="37.5" letter-spacing="0.35">year</text>
<rect x="174.6" y="-22.7" width="15.4" height="1.5" fill="#000"/>
<text x="193.5" y="-16.3" font-family="'Liberation Serif', serif" font-size="26">1</text>
<path d="M207.8 -27.6h5.4v36h-5.4" fill="none" stroke="#000" stroke-width="1.5"/>
</g>
<text transform="translate(289.5 703.7) scale(1.07 1)" font-family="'Liberation Serif', serif" font-size="37.5" font-style="italic">M</text>
<text transform="translate(323.9 709.3) scale(1.06 1)" font-family="'Liberation Serif', serif" font-size="19.4" letter-spacing="1.2">BH</text>
<path d="M371.8 676.6h-5.2v37h5.2" fill="none" stroke="#000" stroke-width="1.5"/>
<text transform="translate(374.6 703.7) scale(1.07 1)" font-family="'Liberation Serif', serif" font-size="37.5" font-style="italic">M</text>
<circle cx="417" cy="703.6" r="8.6" fill="none" stroke="#000" stroke-width="1.3"/>
<circle cx="417" cy="703.6" r="2" fill="#000"/>
<path d="M429.8 676.6h5.2v37h-5.2" fill="none" stroke="#000" stroke-width="1.5"/>
<path d="M847.5 621.5v-4M847.5 85.5v4M879.5 621.5v-4M879.5 85.5v4M901.5 621.5v-4M901.5 85.5v4M918.5 621.5v-4M918.5 85.5v4M932.5 621.5v-4M932.5 85.5v4M944.5 621.5v-4M944.5 85.5v4M955.5 621.5v-4M955.5 85.5v4M964.5 621.5v-4M964.5 85.5v4M972.5 621.5v-11M972.5 85.5v11M1026.5 621.5v-4M1026.5 85.5v4M1057.5 621.5v-4M1057.5 85.5v4M1080.5 621.5v-4M1080.5 85.5v4M1097.5 621.5v-4M1097.5 85.5v4M1111.5 621.5v-4M1111.5 85.5v4M1123.5 621.5v-4M1123.5 85.5v4M1133.5 621.5v-4M1133.5 85.5v4M1142.5 621.5v-4M1142.5 85.5v4M1151.5 621.5v-11M1151.5 85.5v11M1204.5 621.5v-4M1204.5 85.5v4M1236.5 621.5v-4M1236.5 85.5v4M1258.5 621.5v-4M1258.5 85.5v4M1275.5 621.5v-4M1275.5 85.5v4M1290.5 621.5v-4M1290.5 85.5v4M1301.5 621.5v-4M1301.5 85.5v4M1312.5 621.5v-4M1312.5 85.5v4M1321.5 621.5v-4M1321.5 85.5v4M794.5 581.5h4M1329.5 581.5h-4M794.5 557.5h4M1329.5 557.5h-4M794.5 541.5h4M1329.5 541.5h-4M794.5 528.5h4M1329.5 528.5h-4M794.5 517.5h4M1329.5 517.5h-4M794.5 508.5h4M1329.5 508.5h-4M794.5 500.5h4M1329.5 500.5h-4M794.5 493.5h4M1329.5 493.5h-4M794.5 487.5h11M1329.5 487.5h-11M794.5 447.5h4M1329.5 447.5h-4M794.5 423.5h4M1329.5 423.5h-4M794.5 407.5h4M1329.5 407.5h-4M794.5 394.5h4M1329.5 394.5h-4M794.5 383.5h4M1329.5 383.5h-4M794.5 374.5h4M1329.5 374.5h-4M794.5 366.5h4M1329.5 366.5h-4M794.5 359.5h4M1329.5 359.5h-4M794.5 353.5h11M1329.5 353.5h-11M794.5 313.5h4M1329.5 313.5h-4M794.5 289.5h4M1329.5 289.5h-4M794.5 273.5h4M1329.5 273.5h-4M794.5 260.5h4M1329.5 260.5h-4M794.5 249.5h4M1329.5 249.5h-4M794.5 240.5h4M1329.5 240.5h-4M794.5 232.5h4M1329.5 232.5h-4M794.5 225.5h4M1329.5 225.5h-4M794.5 219.5h11M1329.5 219.5h-11M794.5 179.5h4M1329.5 179.5h-4M794.5 155.5h4M1329.5 155.5h-4M794.5 139.5h4M1329.5 139.5h-4M794.5 126.5h4M1329.5 126.5h-4M794.5 115.5h4M1329.5 115.5h-4M794.5 106.5h4M1329.5 106.5h-4M794.5 98.5h4M1329.5 98.5h-4M794.5 91.5h4M1329.5 91.5h-4" fill="none" stroke="#c0c0c0" stroke-width="1"/>
<rect x="794.5" y="85.5" width="535" height="536" fill="none" stroke="#bcbcbc" stroke-width="1"/>
<g clip-path="url(#clipR)" fill="none" stroke-linejoin="round" stroke-linecap="butt">
<path d="M1020 194C1021.2 194.6 1021.2 194.5 1023.7 195.7C1026.2 196.8 1025 196.2 1027.5 197.3C1030 198.5 1028.8 197.9 1031.2 199.1C1033.7 200.2 1032.5 199.6 1034.9 200.8C1037.4 202.1 1036.2 201.4 1038.6 202.7C1041 204 1039.8 203.3 1042.2 204.7C1044.5 206 1043.4 205.3 1045.7 206.8C1048 208.2 1046.8 207.5 1049.1 209C1051.3 210.5 1050.2 209.7 1052.3 211.3C1054.5 212.9 1053.4 212.1 1055.5 213.8C1057.6 215.5 1056.6 214.6 1058.5 216.4C1060.5 218.2 1059.5 217.2 1061.4 219.1C1063.4 221 1062.4 220 1064.2 221.9C1066.1 223.9 1065.2 222.9 1066.9 224.9C1068.7 226.9 1067.8 225.9 1069.5 227.9C1071.2 230 1070.4 229 1072 231.1C1073.6 233.2 1072.8 232.1 1074.4 234.3C1075.9 236.5 1075.2 235.4 1076.7 237.6C1078.2 239.8 1077.4 238.7 1078.9 240.9C1080.3 243.2 1079.6 242.1 1081 244.4C1082.4 246.7 1081.7 245.5 1083 247.8C1084.4 250.2 1083.7 249 1085 251.3C1086.3 253.7 1085.6 252.5 1086.9 254.9C1088.1 257.3 1087.5 256.1 1088.7 258.5C1089.9 260.9 1089.3 259.7 1090.4 262.2C1091.6 264.6 1091 263.4 1092.1 265.9C1093.2 268.3 1092.7 267.1 1093.7 269.6C1094.8 272.1 1094.3 270.8 1095.3 273.3C1096.4 275.8 1095.8 274.6 1096.8 277.1C1097.9 279.6 1097.4 278.4 1098.3 280.9C1099.3 283.5 1098.8 282.2 1099.8 284.7C1100.7 287.3 1100.3 286 1101.2 288.6C1102.1 291.1 1101.6 289.9 1102.6 292.4C1103.5 295 1103 293.7 1103.9 296.3C1104.8 298.9 1104.3 297.6 1105.2 300.2C1106.1 302.7 1105.7 301.4 1106.5 304C1107.4 306.6 1107 305.3 1107.8 307.9C1108.6 310.5 1108.2 309.2 1109 311.8C1109.9 314.4 1109.5 313.1 1110.3 315.7C1111.1 318.3 1110.7 317 1111.5 319.6C1112.3 322.2 1111.9 320.9 1112.7 323.5C1113.5 326.1 1113.1 324.8 1113.9 327.4C1114.6 330 1114.2 328.7 1115 331.3C1115.8 333.9 1115.4 332.6 1116.1 335.2C1116.9 337.8 1116.5 336.5 1117.3 339.1C1118 341.7 1117.6 340.4 1118.3 343C1119.1 345.6 1118.7 344.3 1119.4 346.9C1120.1 349.5 1119.8 348.2 1120.5 350.8C1121.2 353.5 1120.8 352.2 1121.5 354.8C1122.2 357.4 1121.9 356.1 1122.5 358.7C1123.2 361.3 1122.9 360 1123.5 362.6C1124.2 365.3 1123.9 363.9 1124.5 366.6C1125.2 369.2 1124.8 367.9 1125.5 370.5C1126.1 373.1 1125.8 371.8 1126.4 374.5C1127 377.1 1126.7 375.8 1127.3 378.4C1128 381 1127.7 379.7 1128.3 382.4C1128.9 385 1128.6 383.7 1129.2 386.3C1129.7 389 1129.5 387.6 1130 390.3C1130.6 392.9 1130.3 391.6 1130.9 394.2C1131.5 396.9 1131.2 395.6 1131.7 398.2C1132.3 400.8 1132 399.5 1132.6 402.2C1133.1 404.8 1132.9 403.5 1133.4 406.1C1133.9 408.8 1133.7 407.5 1134.2 410.1C1134.7 412.8 1134.5 411.4 1135 414.1C1135.5 416.7 1135.2 415.4 1135.7 418.1C1136.3 420.7 1136 419.4 1136.5 422.1C1137 424.7 1136.8 423.4 1137.2 426C1137.7 428.7 1137.5 427.4 1138 430C1138.5 432.7 1138.2 431.4 1138.7 434C1139.2 436.7 1138.9 435.3 1139.4 438C1139.9 440.7 1139.6 439.3 1140.1 442C1140.5 444.7 1140.3 443.3 1140.8 446C1141.2 448.7 1141 447.3 1141.4 450C1141.9 452.7 1141.6 451.3 1142.1 454C1142.5 456.7 1142.3 455.3 1142.7 458C1143.1 460.7 1142.9 459.3 1143.3 462C1143.7 464.7 1143.5 463.4 1143.9 466C1144.4 468.7 1144.2 467.4 1144.6 470C1145 472.7 1144.8 471.4 1145.1 474.1C1145.5 476.7 1145.3 475.4 1145.7 478.1C1146.1 480.7 1145.9 479.4 1146.3 482.1C1146.7 484.8 1146.5 483.4 1146.9 486.1C1147.2 488.8 1147 487.4 1147.4 490.1C1147.8 492.8 1147.6 491.5 1147.9 494.2C1148.3 496.8 1148.1 495.5 1148.5 498.2C1148.8 500.9 1148.7 499.5 1149 502.2C1149.3 504.9 1149.2 503.5 1149.5 506.2C1149.8 508.9 1149.7 507.6 1150 510.3C1150.3 512.9 1150.2 511.6 1150.5 514.3C1150.8 517 1150.7 515.6 1151 518.3C1151.3 521 1151.2 519.7 1151.5 522.4C1151.8 525.1 1151.6 523.7 1151.9 526.4C1152.3 529.1 1152.1 527.7 1152.4 530.4C1152.7 533.1 1152.6 531.8 1152.9 534.5C1153.2 537.2 1153 535.8 1153.3 538.5C1153.6 541.2 1153.5 539.9 1153.7 542.6C1154 545.2 1153.9 543.9 1154.2 546.6C1154.5 549.3 1154.3 547.9 1154.6 550.6C1154.9 553.3 1154.8 552 1155 554.7C1155.3 557.4 1155.2 556 1155.4 558.7C1155.7 561.4 1155.6 560.1 1155.9 562.8C1156.1 565.5 1156 564.1 1156.3 566.8C1156.5 569.5 1156.4 568.2 1156.7 570.9C1156.9 573.6 1156.8 572.2 1157.1 574.9C1157.3 577.6 1157.2 576.3 1157.4 579C1157.7 581.7 1157.6 580.3 1157.8 583C1158.1 585.7 1158 584.4 1158.2 587C1158.5 589.7 1158.3 588.4 1158.6 591.1C1158.8 593.8 1158.7 592.4 1159 595.1C1159.2 597.8 1159.1 596.5 1159.3 599.2C1159.6 601.9 1159.5 600.5 1159.7 603.2C1159.9 605.9 1159.8 604.6 1160.1 607.3C1160.3 610 1160.2 608.6 1160.4 611.3C1160.7 614 1160.5 612.7 1160.8 615.4C1161 618.1 1160.9 616.7 1161.1 619.4C1161.4 622.2 1161.4 622.2 1161.5 623.5" stroke="#6b6bee" stroke-width="3.75"/>
<path d="M924.6 161.4C925.9 161.9 925.9 161.9 928.5 162.8C931.1 163.7 929.8 163.2 932.4 164.2C935 165.1 933.7 164.6 936.3 165.5C938.9 166.4 937.6 166 940.2 166.8C942.8 167.7 941.5 167.3 944.1 168.2C946.7 169 945.4 168.6 948 169.5C950.6 170.3 949.3 169.9 951.9 170.7C954.6 171.6 953.2 171.2 955.9 172C958.5 172.8 957.2 172.4 959.8 173.2C962.4 174 961.1 173.6 963.8 174.4C966.4 175.2 965.1 174.8 967.7 175.6C970.3 176.5 969 176 971.6 176.9C974.2 177.8 972.9 177.3 975.5 178.2C978.1 179.1 976.8 178.7 979.4 179.6C982 180.5 980.7 180 983.3 181C985.9 182 984.6 181.5 987.1 182.5C989.7 183.6 988.4 183 990.9 184.2C993.4 185.3 992.2 184.8 994.6 185.9C997.1 187.1 995.9 186.5 998.4 187.7C1000.8 188.9 999.6 188.3 1002.1 189.5C1004.6 190.7 1003.3 190.1 1005.8 191.3C1008.3 192.5 1007 191.9 1009.5 193.1C1012 194.3 1010.8 193.7 1013.2 194.9C1015.7 196.1 1014.5 195.5 1016.9 196.7C1019.4 197.9 1018.2 197.4 1020.7 198.5C1023.2 199.7 1021.9 199.1 1024.5 200.2C1027 201.3 1025.7 200.7 1028.3 201.9C1030.8 203 1029.6 202.4 1032.1 203.6C1034.6 204.7 1033.4 204.1 1035.8 205.4C1038.1 206.7 1037 205.9 1039.2 207.5C1041.5 209 1040.3 208.2 1042.5 210C1044.6 211.7 1043.5 210.9 1045.6 212.7C1047.6 214.6 1046.6 213.7 1048.6 215.6C1050.7 217.4 1049.7 216.5 1051.7 218.3C1053.7 220.1 1052.7 219.2 1054.8 221.1C1056.8 222.9 1055.8 222 1057.8 223.9C1059.8 225.7 1058.8 224.8 1060.8 226.7C1062.9 228.5 1061.8 227.6 1063.9 229.5C1065.9 231.3 1064.9 230.4 1066.9 232.2C1069 234.1 1068 233.1 1070 235C1072 236.9 1071 235.9 1073 237.8C1075 239.7 1074 238.8 1076 240.7C1078 242.6 1076.9 241.7 1079 243.5C1081 245.3 1080 244.4 1082.1 246.2C1084.3 247.9 1083.2 247 1085.4 248.7C1087.6 250.4 1086.5 249.6 1088.7 251.2C1091 252.8 1090 251.8 1092.2 253.5C1094.3 255.2 1093.4 254.2 1095.2 256.2C1097 258.3 1096.8 258.5 1097.6 259.6C1098.2 260.9 1098.2 260.9 1099.5 263.4C1100.8 265.9 1100.2 264.6 1101.5 267.1C1102.8 269.7 1102.2 268.4 1103.3 271C1104.4 273.6 1103.8 272.3 1104.9 274.9C1105.9 277.6 1105.4 276.3 1106.4 278.9C1107.4 281.6 1106.9 280.2 1107.9 282.9C1108.9 285.5 1108.4 284.2 1109.3 286.9C1110.3 289.5 1109.8 288.2 1110.8 290.9C1111.7 293.5 1111.3 292.2 1112.2 294.9C1113.1 297.6 1112.6 296.2 1113.5 298.9C1114.4 301.6 1113.9 300.3 1114.9 302.9C1115.9 305.6 1115.4 304.2 1116.5 306.9C1117.5 309.5 1117 308.2 1118.1 310.8C1119.2 313.4 1118.6 312.1 1119.7 314.7C1120.7 317.4 1120.2 316.1 1121.3 318.7C1122.3 321.3 1121.8 320 1122.9 322.6C1124 325.2 1123.4 323.9 1124.5 326.5C1125.7 329.1 1125.1 327.8 1126.3 330.4C1127.5 332.9 1126.9 331.7 1128.1 334.2C1129.4 336.7 1128.8 335.5 1130 338C1131.3 340.5 1130.7 339.3 1132 341.8C1133.3 344.3 1132.6 343 1134 345.5C1135.3 348 1134.7 346.8 1136 349.2C1137.4 351.7 1136.7 350.5 1138.1 352.9C1139.5 355.4 1138.8 354.2 1140.3 356.6C1141.7 359 1141 357.8 1142.5 360.2C1144 362.7 1143.2 361.5 1144.7 363.8C1146.3 366.2 1145.5 365.1 1147.1 367.4C1148.7 369.7 1147.9 368.5 1149.6 370.8C1151.3 373 1150.5 371.9 1152.2 374.2C1153.8 376.5 1153 375.3 1154.7 377.6C1156.3 379.9 1156.3 379.9 1157.1 381.1C1158.3 381.7 1158.4 381.6 1160.8 382.8C1163.3 384 1162.1 383.3 1164.3 384.7C1166.6 386.1 1165.5 385.4 1167.6 387C1169.8 388.6 1168.8 387.8 1170.8 389.6C1172.8 391.4 1172.7 391.5 1173.7 392.5C1174.2 392.7 1174.2 392.7 1175.1 393C1176.1 393.2 1175.6 393.1 1176.5 393.3C1177.5 393.4 1177 393.4 1178 393.4C1178.9 393.5 1178.5 393.5 1179.4 393.5C1180.4 393.5 1180.4 393.5 1180.9 393.5C1181.1 394.8 1181.2 394.8 1181.6 397.5C1182.1 400.2 1181.8 398.9 1182.3 401.6C1182.7 404.3 1182.5 402.9 1182.9 405.6C1183.3 408.3 1183.1 407 1183.4 409.7C1183.8 412.4 1183.6 411.1 1183.9 413.8C1184.2 416.5 1184 415.1 1184.4 417.8C1184.7 420.6 1184.5 419.2 1184.9 421.9C1185.2 424.6 1185 423.3 1185.5 426C1185.9 428.7 1185.7 427.3 1186.1 430C1186.5 432.7 1186.4 431.4 1186.7 434.1C1187.1 436.8 1186.9 435.4 1187.2 438.1C1187.4 440.9 1187.3 439.5 1187.5 442.2C1187.7 445 1187.6 443.6 1187.7 446.3C1187.9 449.1 1187.8 447.7 1188 450.4C1188.1 453.2 1188 451.8 1188.3 454.5C1188.5 457.2 1188.4 455.9 1188.6 458.6C1188.8 461.3 1188.7 460 1189 462.7C1189.2 465.4 1189.1 464 1189.3 466.8C1189.6 469.5 1189.5 468.1 1189.7 470.8C1190 473.6 1189.9 472.2 1190.1 474.9C1190.4 477.6 1190.3 476.3 1190.6 479C1190.9 481.7 1190.7 480.4 1191 483.1C1191.3 485.8 1191.1 484.4 1191.4 487.2C1191.7 489.9 1191.6 488.5 1191.9 491.2C1192.2 493.9 1192 492.6 1192.3 495.3C1192.6 498 1192.5 496.7 1192.8 499.4C1193.1 502.1 1193 500.7 1193.3 503.4C1193.6 506.2 1193.5 504.8 1193.8 507.5C1194.1 510.2 1194 508.9 1194.3 511.6C1194.6 514.3 1194.5 512.9 1194.8 515.7C1195.1 518.4 1194.9 517 1195.2 519.7C1195.6 522.4 1195.4 521.1 1195.7 523.8C1196 526.5 1195.8 525.2 1196.1 527.9C1196.4 530.6 1196.2 529.2 1196.5 532C1196.7 534.7 1196.6 533.3 1196.8 536.1C1197.1 538.8 1197 537.4 1197.2 540.2C1197.5 542.9 1197.3 541.5 1197.6 544.2C1197.9 547 1197.7 545.6 1198 548.3C1198.3 551 1198.1 549.7 1198.5 552.4C1198.8 555.1 1198.6 553.7 1199 556.4C1199.3 559.2 1199.1 557.8 1199.5 560.5C1199.9 563.2 1199.7 561.9 1200.2 564.5C1200.7 567.2 1200.4 565.9 1201 568.6C1201.6 571.3 1201.3 569.9 1201.9 572.6C1202.6 575.2 1202.2 573.9 1203 576.5C1203.8 579.2 1203.3 577.9 1204.3 580.5C1205.2 583 1204.6 581.6 1205.9 584.2C1207.1 586.8 1206.4 586.4 1208 588.3C1209.6 590.2 1208.8 590.4 1210.7 589.9C1212.5 589.4 1211.9 588.9 1213.6 586.7C1215.3 584.4 1214.5 585.5 1215.7 583.1C1217 580.6 1216.3 581.9 1217.4 579.3C1218.4 576.8 1217.8 578 1218.8 575.4C1219.7 572.8 1219.3 574.1 1220.2 571.5C1221.2 568.9 1220.7 570.2 1221.6 567.7C1222.5 565.1 1222.1 566.4 1223 563.8C1223.8 561.2 1223.4 562.5 1224.2 559.9C1225 557.3 1224.6 558.6 1225.4 556C1226.1 553.3 1225.8 554.7 1226.4 552C1227.1 549.4 1226.8 550.7 1227.5 548C1228.1 545.4 1227.8 546.7 1228.4 544C1229.1 541.4 1228.8 542.7 1229.4 540.1C1230 537.4 1229.7 538.7 1230.4 536.1C1231 533.4 1230.7 534.7 1231.3 532.1C1231.9 529.4 1231.6 530.8 1232.2 528.1C1232.8 525.4 1232.5 526.8 1233.1 524.1C1233.7 521.4 1233.4 522.8 1234 520.1C1234.6 517.4 1234.3 518.8 1234.9 516.1C1235.4 513.4 1235.1 514.7 1235.7 512.1C1236.2 509.4 1235.9 510.7 1236.5 508C1237 505.3 1237 505.3 1237.2 504C1237.5 505.6 1237.5 505.6 1238.1 508.7C1238.8 511.9 1238.5 510.3 1239.2 513.5C1239.9 516.6 1239.6 515 1240.4 518.1C1241.1 521.3 1240.7 519.7 1241.5 522.9C1242.4 526 1241.7 524.5 1242.9 527.5C1244.1 530.6 1243 529.8 1245.1 532C1247.2 534.2 1246.5 534.2 1249.1 534.1C1251.8 533.9 1251.7 532.4 1253 531.5C1253.2 529.9 1253.2 529.9 1253.7 526.8C1254.2 523.7 1253.9 525.3 1254.5 522.2C1255 519.1 1254.7 520.7 1255.4 517.6C1256 514.5 1255.6 516 1256.3 513C1257 509.9 1256.6 511.4 1257.4 508.4C1258.1 505.3 1257.7 506.9 1258.5 503.8C1259.3 500.8 1259.4 500.8 1259.8 499.3C1259.9 497.9 1259.9 497.9 1260 495C1260.2 492.1 1260.1 493.5 1260.3 490.6C1260.4 487.8 1260.3 489.2 1260.5 486.3C1260.7 483.4 1260.6 484.9 1260.7 482C1260.9 479.1 1260.8 480.5 1261 477.7C1261.2 474.8 1261.1 476.2 1261.2 473.3C1261.4 470.4 1261.3 471.9 1261.5 469C1261.7 466.1 1261.6 467.6 1261.9 464.7C1262.1 461.8 1262 463.2 1262.2 460.4C1262.5 457.5 1262.3 458.9 1262.6 456C1262.9 453.2 1262.7 454.6 1263.1 451.7C1263.4 448.8 1263.2 450.3 1263.6 447.4C1264 444.6 1263.8 446 1264.2 443.1C1264.7 440.3 1264.4 441.7 1265 438.9C1265.6 436 1265.3 437.5 1265.9 434.6C1266.5 431.8 1266.6 431.8 1266.9 430.4" stroke="#bf4040" stroke-width="3.75"/>
<path d="M924.6 161.1C925.9 161.6 925.9 161.6 928.5 162.5C931.2 163.4 929.8 163 932.5 163.9C935.1 164.8 933.8 164.3 936.4 165.2C939 166.1 937.7 165.7 940.4 166.5C943 167.4 941.7 167 944.3 167.9C947 168.7 945.6 168.3 948.3 169.2C950.9 170 949.6 169.6 952.3 170.4C954.9 171.3 953.6 170.9 956.2 171.7C958.9 172.5 957.6 172.1 960.2 172.9C962.9 173.7 961.6 173.3 964.2 174.1C966.9 174.9 965.6 174.5 968.2 175.3C970.9 176.1 969.5 175.7 972.2 176.6C974.8 177.5 973.5 177 976.1 177.9C978.8 178.8 977.4 178.4 980.1 179.3C982.7 180.2 981.4 179.7 984 180.7C986.6 181.7 985.3 181.2 987.9 182.2C990.4 183.3 989.2 182.7 991.7 183.8C994.3 184.9 993 184.4 995.5 185.5C998.1 186.6 996.8 186.1 999.3 187.2C1001.9 188.3 1000.6 187.8 1003.2 188.9C1005.7 190 1004.4 189.5 1007 190.6C1009.5 191.8 1008.2 191.2 1010.7 192.3C1013.3 193.5 1012 192.9 1014.5 194.1C1017.1 195.3 1015.8 194.7 1018.3 195.8C1020.8 197 1019.6 196.5 1022.1 197.6C1024.7 198.7 1023.4 198.2 1026 199.3C1028.5 200.4 1027.3 199.8 1029.8 200.9C1032.4 202.1 1031.2 201.5 1033.6 202.7C1036.1 203.9 1034.9 203.2 1037.3 204.6C1039.7 205.9 1038.5 205.1 1040.8 206.7C1043 208.3 1041.9 207.5 1044 209.3C1046.1 211.2 1045.1 210.3 1047.1 212.2C1049.2 214.1 1048.2 213.1 1050.2 215C1052.3 216.9 1051.3 215.9 1053.3 217.8C1055.4 219.6 1054.4 218.7 1056.4 220.6C1058.5 222.5 1057.4 221.5 1059.5 223.4C1061.5 225.3 1060.5 224.4 1062.6 226.2C1064.6 228.1 1063.6 227.2 1065.6 229C1067.7 230.9 1066.7 230 1068.7 231.8C1070.8 233.7 1069.8 232.8 1071.8 234.7C1073.8 236.6 1072.8 235.6 1074.8 237.5C1076.9 239.4 1075.8 238.5 1077.8 240.4C1079.9 242.3 1078.8 241.4 1080.9 243.2C1083 245 1082 244.1 1084.1 245.9C1086.3 247.6 1085.2 246.8 1087.4 248.5C1089.6 250.1 1088.5 249.3 1090.8 250.9C1093 252.5 1093.1 252.5 1094.2 253.3C1094.5 253.7 1094.6 253.7 1095.2 254.5C1095.9 255.3 1095.6 254.9 1096.1 255.8C1096.7 256.7 1096.4 256.2 1096.9 257.1C1097.3 258.1 1097.1 257.6 1097.5 258.6C1097.8 259.6 1097.8 259.6 1097.9 260.1C1099.3 261.1 1099.3 261.1 1102.2 263.1C1105 265.1 1103.6 264.1 1106.5 266C1109.4 268 1108 266.9 1110.9 268.9C1113.7 270.8 1112.3 269.8 1115.1 271.8C1117.9 273.9 1116.5 272.8 1119.3 275C1122 277.1 1122 277.2 1123.3 278.3C1123.9 279.6 1123.9 279.6 1125.2 282.2C1126.5 284.8 1125.8 283.5 1127.1 286.2C1128.3 288.8 1127.7 287.5 1128.9 290.1C1130.1 292.8 1129.5 291.4 1130.6 294.1C1131.8 296.8 1131.3 295.4 1132.4 298.1C1133.6 300.8 1133 299.4 1134.1 302.1C1135.3 304.8 1134.7 303.5 1136 306.1C1137.2 308.7 1136.6 307.4 1138 309.9C1139.4 312.4 1138.7 311.2 1140.3 313.7C1141.8 316.1 1141 314.9 1142.7 317.3C1144.5 319.6 1143.5 318.4 1145.4 320.6C1147.4 322.8 1146.4 321.9 1148.5 323.9C1150.6 325.8 1149.5 324.9 1151.8 326.5C1154.2 328.2 1153 327.4 1155.6 328.8C1158.1 330.1 1156.9 329.5 1159.6 330.7C1162.3 331.8 1160.9 331.2 1163.6 332.1C1166.4 333.1 1165 332.7 1167.8 333.4C1170.7 334.1 1169.3 333.8 1172.1 334.3C1175 334.7 1173.5 334.5 1176.4 334.8C1179.3 335 1179.3 334.9 1180.8 335C1181.6 336.5 1181.5 336.6 1183.3 339.5C1185.1 342.4 1184.2 340.9 1186.2 343.7C1188.2 346.5 1186.9 345.5 1189.4 347.8C1191.8 350.2 1190.5 349.2 1193.5 350.8C1196.5 352.3 1195.2 352.6 1198.4 352.6C1201.5 352.6 1199.8 352 1203 350.8C1206.1 349.6 1206.2 349.6 1207.8 349C1208 348.2 1207.9 348 1208.4 346.6C1209 345.1 1208.5 345.8 1209.5 344.5C1210.4 343.3 1209.9 343.9 1211.2 342.9C1212.5 341.9 1211.8 342.3 1213.3 341.5C1214.7 340.8 1214.8 340.9 1215.5 340.6" stroke="#40bf40" stroke-width="3.75"/>
<path d="M883.6 150.6C884.9 150.9 884.9 150.9 887.4 151.6C889.9 152.3 888.7 151.9 891.2 152.6C893.8 153.2 892.5 152.9 895 153.6C897.6 154.2 896.3 153.9 898.9 154.6C901.5 155.2 900.2 154.9 902.8 155.5C905.3 156.2 904 155.9 906.6 156.5C909.2 157.2 907.9 156.9 910.5 157.5C913.1 158.2 911.8 157.9 914.4 158.5C917 159.2 915.7 158.9 918.3 159.5C920.9 160.2 919.6 159.9 922.2 160.6C924.8 161.3 923.5 160.9 926.2 161.6C928.8 162.3 927.5 162 930.1 162.7C932.7 163.4 931.4 163 934 163.8C936.6 164.5 935.3 164.1 937.9 164.9C940.5 165.6 939.2 165.2 941.8 166C944.4 166.8 943.1 166.4 945.7 167.2C948.3 167.9 947 167.5 949.6 168.3C952.2 169.1 950.9 168.7 953.5 169.5C956.1 170.4 954.8 170 957.4 170.8C960 171.6 958.7 171.2 961.3 172.1C963.9 173 962.6 172.5 965.1 173.4C967.7 174.3 966.4 173.8 969 174.8C971.5 175.7 970.3 175.2 972.8 176.2C975.3 177.1 974.1 176.6 976.6 177.6C979.1 178.6 977.9 178.1 980.4 179.1C982.9 180.1 981.6 179.6 984.1 180.7C986.6 181.7 985.4 181.2 987.9 182.3C990.3 183.4 989.1 182.8 991.6 183.9C994 185.1 992.8 184.5 995.2 185.7C997.7 186.8 996.5 186.2 998.9 187.4C1001.3 188.6 1000.1 188 1002.5 189.3C1004.9 190.5 1003.7 189.9 1006.1 191.2C1008.4 192.4 1007.3 191.8 1009.6 193.1C1012 194.4 1010.8 193.8 1013.1 195.1C1015.4 196.5 1014.3 195.8 1016.6 197.2C1018.9 198.6 1017.7 197.9 1020 199.4C1022.3 200.8 1021.1 200.1 1023.4 201.6C1025.6 203.1 1024.5 202.3 1026.7 203.8C1028.9 205.4 1027.8 204.6 1030 206.2C1032.1 207.7 1031.1 207 1033.2 208.6C1035.3 210.2 1034.3 209.4 1036.4 211C1038.5 212.7 1037.4 211.8 1039.5 213.5C1041.6 215.2 1040.5 214.4 1042.6 216.1C1044.6 217.8 1043.6 217 1045.6 218.7C1047.6 220.5 1046.6 219.6 1048.5 221.4C1050.5 223.2 1049.5 222.3 1051.4 224.2C1053.3 226 1052.4 225.1 1054.2 227C1056.1 228.9 1055.2 227.9 1057 229.8C1058.8 231.8 1057.9 230.8 1059.7 232.8C1061.4 234.7 1060.6 233.7 1062.3 235.7C1064 237.7 1063.2 236.7 1064.8 238.8C1066.5 240.8 1065.7 239.8 1067.3 241.9C1068.9 244 1068.1 242.9 1069.7 245C1071.3 247.1 1070.5 246.1 1072 248.2C1073.6 250.4 1072.8 249.3 1074.3 251.5C1075.8 253.7 1075 252.6 1076.5 254.8C1077.9 257 1077.2 255.9 1078.6 258.1C1080 260.4 1079.3 259.3 1080.7 261.5C1082 263.8 1081.4 262.7 1082.7 265C1084 267.3 1083.3 266.1 1084.6 268.5C1085.9 270.8 1085.3 269.6 1086.5 272C1087.7 274.4 1087.1 273.2 1088.3 275.6C1089.5 278 1088.9 276.8 1090.1 279.2C1091.2 281.6 1090.7 280.4 1091.8 282.8C1092.9 285.2 1092.4 284 1093.4 286.5C1094.5 288.9 1094 287.7 1095.1 290.2C1096.1 292.7 1095.6 291.4 1096.6 293.9C1097.6 296.4 1097.1 295.1 1098.1 297.7C1099.1 300.2 1098.6 298.9 1099.6 301.4C1100.5 304 1100.1 302.7 1101 305.3C1101.9 307.8 1101.5 306.5 1102.4 309.1C1103.3 311.6 1102.8 310.4 1103.7 312.9C1104.6 315.5 1104.2 314.2 1105 316.8C1105.9 319.4 1105.5 318.1 1106.3 320.7C1107.1 323.3 1106.7 322 1107.5 324.6C1108.3 327.2 1107.9 325.9 1108.7 328.5C1109.5 331.1 1109.1 329.8 1109.8 332.4C1110.6 335 1110.2 333.7 1111 336.3C1111.7 339 1111.3 337.7 1112.1 340.3C1112.8 342.9 1112.4 341.6 1113.1 344.2C1113.8 346.9 1113.5 345.5 1114.2 348.2C1114.9 350.8 1114.5 349.5 1115.2 352.1C1115.9 354.8 1115.5 353.4 1116.2 356.1C1116.9 358.7 1116.5 357.4 1117.2 360C1117.8 362.7 1117.5 361.3 1118.1 364C1118.7 366.6 1118.4 365.3 1119 367.9C1119.7 370.6 1119.4 369.2 1119.9 371.9C1120.5 374.5 1120.2 373.2 1120.8 375.8C1121.4 378.5 1121.1 377.2 1121.7 379.8C1122.3 382.4 1122 381.1 1122.5 383.7C1123.1 386.4 1122.8 385.1 1123.4 387.7C1123.9 390.3 1123.6 389 1124.2 391.7C1124.7 394.3 1124.4 393 1124.9 395.6C1125.4 398.3 1125.2 396.9 1125.7 399.6C1126.2 402.2 1125.9 400.9 1126.4 403.5C1126.9 406.2 1126.7 404.9 1127.2 407.5C1127.6 410.2 1127.4 408.8 1127.9 411.5C1128.3 414.1 1128.1 412.8 1128.6 415.4C1129 418.1 1128.8 416.8 1129.2 419.4C1129.7 422.1 1129.5 420.7 1129.9 423.4C1130.3 426 1130.1 424.7 1130.5 427.3C1130.9 430 1130.7 428.7 1131.2 431.3C1131.6 434 1131.4 432.6 1131.8 435.3C1132.2 437.9 1132 436.6 1132.4 439.3C1132.7 441.9 1132.5 440.6 1132.9 443.2C1133.3 445.9 1133.1 444.6 1133.5 447.2C1133.9 449.9 1133.7 448.5 1134 451.2C1134.4 453.8 1134.2 452.5 1134.6 455.2C1134.9 457.8 1134.8 456.5 1135.1 459.1C1135.4 461.8 1135.3 460.5 1135.6 463.1C1135.9 465.8 1135.8 464.4 1136.1 467.1C1136.4 469.8 1136.3 468.4 1136.6 471.1C1136.9 473.7 1136.8 472.4 1137.1 475.1C1137.4 477.7 1137.2 476.4 1137.5 479.1C1137.8 481.7 1137.7 480.4 1138 483C1138.3 485.7 1138.1 484.4 1138.4 487C1138.7 489.7 1138.6 488.4 1138.9 491C1139.2 493.7 1139 492.3 1139.3 495C1139.6 497.7 1139.4 496.3 1139.7 499C1140 501.7 1139.8 500.3 1140.1 503C1140.4 505.7 1140.2 504.3 1140.5 507C1140.8 509.7 1140.6 508.3 1140.9 511C1141.2 513.6 1141 512.3 1141.3 515C1141.5 517.6 1141.4 516.3 1141.7 519C1141.9 521.6 1141.8 520.3 1142 523C1142.3 525.6 1142.2 524.3 1142.4 527C1142.6 529.7 1142.5 528.3 1142.7 531C1143 533.7 1142.9 532.3 1143.1 535C1143.3 537.7 1143.2 536.3 1143.4 539C1143.7 541.7 1143.6 540.3 1143.8 543C1144 545.7 1143.9 544.3 1144.1 547C1144.4 549.7 1144.2 548.4 1144.5 551C1144.7 553.7 1144.6 552.4 1144.8 555C1145 557.7 1144.9 556.4 1145.1 559.1C1145.3 561.7 1145.2 560.4 1145.4 563.1C1145.7 565.7 1145.6 564.4 1145.8 567.1C1146 569.8 1145.9 568.4 1146.1 571.1C1146.3 573.8 1146.2 572.4 1146.4 575.1C1146.6 577.8 1146.5 576.5 1146.7 579.1C1146.9 581.8 1146.8 580.5 1147.1 583.2C1147.3 585.9 1147.2 584.5 1147.4 587.2C1147.6 589.9 1147.5 588.5 1147.7 591.2C1147.9 593.9 1147.8 592.6 1148 595.3C1148.2 597.9 1148.1 596.6 1148.3 599.3C1148.5 602 1148.4 600.6 1148.7 603.3C1148.9 606 1148.8 604.7 1149 607.3C1149.2 610 1149.1 608.7 1149.3 611.4C1149.5 614.1 1149.4 612.7 1149.6 615.4C1149.9 618.1 1149.7 616.8 1150 619.5C1150.2 622.2 1150.2 622.2 1150.3 623.5" stroke="#000" stroke-width="4.2" stroke-dasharray="4.1 4.2" stroke-dashoffset="4"/>
<path d="M790.7 131.5C792 131.8 792 131.8 794.6 132.3C797.3 132.8 796 132.6 798.6 133.1C801.2 133.6 799.9 133.4 802.6 133.9C805.2 134.4 803.9 134.2 806.5 134.7C809.2 135.2 807.8 135 810.5 135.5C813.1 136 811.8 135.7 814.5 136.3C817.1 136.8 815.8 136.5 818.4 137.1C821.1 137.6 819.8 137.3 822.4 137.9C825.1 138.4 823.7 138.1 826.4 138.7C829 139.2 827.7 138.9 830.4 139.5C833 140 831.7 139.7 834.4 140.3C837 140.8 835.7 140.5 838.4 141.1C841 141.6 839.7 141.3 842.4 141.9C845 142.4 843.7 142.1 846.4 142.7C849 143.2 847.7 143 850.4 143.5C853 144 851.7 143.8 854.4 144.3C857 144.9 855.7 144.6 858.4 145.2C861 145.7 859.7 145.4 862.4 146C865 146.6 863.7 146.3 866.4 146.8C869 147.4 867.7 147.1 870.4 147.7C873 148.3 871.7 148 874.4 148.5C877 149.1 875.7 148.8 878.4 149.4C881 150 879.7 149.7 882.4 150.3C885 150.9 883.7 150.6 886.3 151.2C889 151.8 887.7 151.5 890.3 152.1C893 152.7 891.7 152.4 894.3 153C897 153.6 895.7 153.3 898.3 153.9C901 154.6 899.7 154.2 902.3 154.9C905 155.5 903.6 155.2 906.3 155.8C908.9 156.5 907.6 156.1 910.3 156.8C912.9 157.4 911.6 157.1 914.2 157.8C916.9 158.4 915.6 158.1 918.2 158.8C920.9 159.4 919.5 159.1 922.2 159.8C924.8 160.5 923.5 160.1 926.1 160.8C928.8 161.5 927.4 161.2 930.1 161.9C932.7 162.6 931.4 162.2 934 162.9C936.7 163.7 935.3 163.3 938 164C940.6 164.7 939.3 164.4 941.9 165.1C944.5 165.9 943.2 165.5 945.8 166.2C948.4 167 947.1 166.6 949.7 167.4C952.3 168.2 951 167.8 953.6 168.6C956.3 169.3 955 168.9 957.6 169.7C960.1 170.5 958.9 170.1 961.4 170.9C964 171.8 962.7 171.4 965.3 172.2C967.9 173 966.6 172.6 969.2 173.4C971.8 174.3 970.5 173.9 973.1 174.7C975.6 175.6 974.4 175.1 976.9 176C979.5 176.9 978.2 176.4 980.8 177.3C983.3 178.2 982 177.8 984.6 178.7C987.1 179.6 985.9 179.1 988.4 180.1C991 181 989.7 180.5 992.2 181.5C994.8 182.4 993.5 182 996 182.9C998.5 183.9 997.3 183.4 999.8 184.4C1002.3 185.4 1001.1 184.9 1003.6 185.9C1006.1 186.9 1004.8 186.4 1007.3 187.4C1009.8 188.4 1008.6 187.9 1011.1 189C1013.6 190 1012.3 189.5 1014.8 190.5C1017.3 191.6 1016 191.1 1018.5 192.1C1021 193.2 1019.8 192.7 1022.2 193.8C1024.7 194.9 1023.5 194.3 1025.9 195.5C1028.4 196.6 1027.1 196 1029.6 197.2C1032 198.3 1030.8 197.8 1033.2 198.9C1035.7 200.1 1034.4 199.5 1036.9 200.7C1039.3 201.9 1038.1 201.3 1040.5 202.5C1042.9 203.7 1041.7 203.1 1044.1 204.4C1046.5 205.6 1045.3 205 1047.7 206.3C1050.1 207.5 1048.9 206.9 1051.3 208.2C1053.6 209.5 1052.4 208.8 1054.8 210.1C1057.2 211.5 1056 210.8 1058.3 212.1C1060.7 213.5 1059.5 212.8 1061.9 214.2C1064.2 215.5 1063 214.9 1065.4 216.3C1067.7 217.6 1066.5 216.9 1068.8 218.4C1071.1 219.8 1070 219.1 1072.3 220.5C1074.6 222 1073.4 221.2 1075.7 222.7C1078 224.2 1076.9 223.5 1079.1 225C1081.4 226.5 1080.3 225.7 1082.5 227.2C1084.8 228.8 1083.7 228 1085.9 229.6C1088.2 231.1 1087 230.3 1089.3 231.9C1091.5 233.5 1090.4 232.7 1092.6 234.3C1094.8 236 1094.8 236 1095.9 236.8C1096.1 237 1096.2 237 1096.6 237.5C1097 238 1096.8 237.8 1097.1 238.3C1097.3 238.8 1097.2 238.6 1097.3 239.1C1097.4 239.7 1097.3 239.4 1097.4 240C1097.4 240.7 1097.4 240.7 1097.4 241C1098.5 241.8 1098.5 241.8 1100.8 243.4C1103.1 245.1 1101.9 244.3 1104.2 245.9C1106.5 247.5 1105.3 246.7 1107.6 248.4C1109.8 250 1108.7 249.2 1111 250.8C1113.2 252.5 1112.1 251.7 1114.3 253.3C1116.6 255 1115.5 254.1 1117.7 255.8C1120 257.5 1118.8 256.6 1121.1 258.3C1123.3 260 1122.2 259.2 1124.4 260.8C1126.7 262.5 1125.5 261.7 1127.8 263.4C1130 265.1 1128.9 264.2 1131.1 265.9C1133.3 267.6 1132.2 266.8 1134.4 268.5C1136.6 270.2 1135.5 269.3 1137.7 271C1139.9 272.7 1138.8 271.9 1141 273.6C1143.2 275.3 1142.1 274.5 1144.3 276.2C1146.5 277.9 1145.4 277.1 1147.6 278.8C1149.8 280.6 1148.7 279.7 1150.9 281.4C1153.1 283.2 1152 282.3 1154.1 284.1C1156.3 285.9 1155.2 285 1157.4 286.8C1159.5 288.5 1158.5 287.6 1160.6 289.4C1162.7 291.2 1161.7 290.3 1163.8 292.1C1165.9 293.9 1164.9 293 1167 294.8C1169.1 296.7 1168.1 295.7 1170.2 297.6C1172.3 299.4 1171.2 298.5 1173.3 300.3C1175.4 302.2 1174.4 301.2 1176.5 303.1C1178.6 304.9 1177.5 304 1179.6 305.9C1181.7 307.7 1180.6 306.8 1182.7 308.7C1184.8 310.6 1183.7 309.6 1185.8 311.5C1187.8 313.4 1186.8 312.5 1188.9 314.4C1190.9 316.3 1189.9 315.3 1191.9 317.2C1193.9 319.2 1192.9 318.2 1194.9 320.1C1196.9 322.1 1195.9 321.1 1197.9 323.1C1199.9 325 1198.9 324 1200.9 326C1202.9 328 1201.9 327 1203.9 329C1205.8 331 1204.9 330 1206.8 332C1208.7 334 1207.8 333 1209.7 335C1211.6 337 1210.7 336 1212.6 338C1214.5 340.1 1213.6 339 1215.5 341.1C1217.4 343.1 1216.4 342.1 1218.3 344.2C1220.2 346.3 1220.2 346.3 1221.1 347.3C1222 348.7 1221.9 348.7 1223.7 351.5C1225.5 354.2 1224.6 352.9 1226.4 355.6C1228.3 358.3 1227.3 357 1229.3 359.6C1231.3 362.2 1230.3 360.9 1232.4 363.4C1234.5 366 1233.5 364.6 1235.5 367.2C1237.6 369.8 1236.5 368.5 1238.5 371.1C1240.5 373.7 1239.5 372.4 1241.5 375C1243.4 377.7 1243.4 377.7 1244.4 379C1245.1 380.4 1245.1 380.4 1246.6 383.1C1248 385.9 1247.3 384.5 1248.8 387.2C1250.4 389.9 1249.6 388.6 1251.2 391.3C1252.7 394 1252 392.6 1253.5 395.3C1255.1 398 1254.3 396.7 1255.8 399.4C1257.4 402.1 1256.6 400.7 1258.1 403.5C1259.5 406.2 1258.8 404.8 1260.2 407.6C1261.6 410.4 1261 409 1262.2 411.9C1263.5 414.7 1263.4 414.8 1264 416.2C1264.5 417.5 1264.5 417.5 1265.5 420.1C1266.4 422.7 1266 421.4 1266.9 424C1267.8 426.6 1267.4 425.3 1268.3 427.9C1269.2 430.5 1268.7 429.2 1269.6 431.8C1270.4 434.4 1270 433.1 1270.9 435.7C1271.7 438.4 1271.3 437 1272.1 439.7C1272.9 442.3 1272.5 441 1273.3 443.6C1274 446.3 1273.7 445 1274.4 447.6C1275.2 450.3 1274.8 448.9 1275.5 451.6C1276.2 454.2 1275.9 452.9 1276.6 455.6C1277.3 458.2 1276.9 456.9 1277.6 459.6C1278.3 462.2 1277.9 460.9 1278.6 463.6C1279.2 466.2 1278.9 464.9 1279.5 467.6C1280.1 470.3 1279.8 468.9 1280.4 471.6C1281 474.3 1280.7 473 1281.3 475.7C1281.8 478.3 1281.6 477 1282.1 479.7C1282.7 482.4 1282.4 481 1282.9 483.7C1283.4 486.4 1283.2 485.1 1283.7 487.8C1284.2 490.5 1283.9 489.2 1284.4 491.9C1284.9 494.6 1284.7 493.2 1285.1 495.9C1285.6 498.7 1285.4 497.3 1285.8 500C1286.2 502.7 1286 501.4 1286.4 504.1C1286.9 506.8 1286.7 505.5 1287.1 508.2C1287.5 510.9 1287.3 509.6 1287.7 512.3C1288 515 1287.9 513.7 1288.2 516.4C1288.6 519.1 1288.4 517.8 1288.8 520.5C1289.1 523.2 1289 521.9 1289.3 524.6C1289.6 527.3 1289.5 526 1289.8 528.7C1290.1 531.5 1290 530.1 1290.3 532.8C1290.6 535.6 1290.4 534.2 1290.7 537C1291 539.7 1290.9 538.3 1291.2 541.1C1291.5 543.8 1291.3 542.4 1291.6 545.2C1291.9 547.9 1291.8 546.6 1292 549.3C1292.3 552.1 1292.2 550.7 1292.4 553.4C1292.7 556.2 1292.6 554.8 1292.8 557.6C1293.1 560.3 1292.9 559 1293.2 561.7C1293.4 564.5 1293.3 563.1 1293.5 565.8C1293.8 568.6 1293.6 567.2 1293.9 570C1294.1 572.7 1294 571.3 1294.2 574.1C1294.4 576.9 1294.3 575.5 1294.5 578.2C1294.8 581 1294.6 579.6 1294.9 582.4C1295.1 585.1 1295 583.7 1295.2 586.5C1295.4 589.2 1295.3 587.9 1295.5 590.6C1295.7 593.4 1295.6 592 1295.8 594.7C1296 597.5 1295.9 596.1 1296.1 598.8C1296.3 601.6 1296.2 600.2 1296.4 603C1296.6 605.7 1296.5 604.3 1296.7 607.1C1296.9 609.8 1296.8 608.5 1297 611.2C1297.2 613.9 1297.1 612.6 1297.3 615.3C1297.5 618 1297.4 616.7 1297.6 619.4C1297.8 622.1 1297.8 622.1 1297.9 623.5" stroke="#000" stroke-width="4.1"/>
</g>
<path transform="translate(737.3 96.5)" d="M8.1 -20.4V0H5.3V-14.6H0V-16.7C2.8 -16.7 5.1 -17.6 5.85 -20.4Z" fill="#000"/>
<text x="750.8" y="96.5" font-family="'Liberation Sans', sans-serif" stroke="#000" stroke-width="0.3" font-size="29.4">0</text>
<rect x="768.4" y="77.8" width="9.8" height="2" fill="#000"/>
<text x="778.5" y="84.9" font-family="'Liberation Sans', sans-serif" stroke="#000" stroke-width="0.3" font-size="21.4">3</text>
<path transform="translate(737.3 230.5)" d="M8.1 -20.4V0H5.3V-14.6H0V-16.7C2.8 -16.7 5.1 -17.6 5.85 -20.4Z" fill="#000"/>
<text x="750.8" y="230.5" font-family="'Liberation Sans', sans-serif" stroke="#000" stroke-width="0.3" font-size="29.4">0</text>
<rect x="768.4" y="211.8" width="9.8" height="2" fill="#000"/>
<text x="778.5" y="218.9" font-family="'Liberation Sans', sans-serif" stroke="#000" stroke-width="0.3" font-size="21.4">4</text>
<path transform="translate(737.3 364.5)" d="M8.1 -20.4V0H5.3V-14.6H0V-16.7C2.8 -16.7 5.1 -17.6 5.85 -20.4Z" fill="#000"/>
<text x="750.8" y="364.5" font-family="'Liberation Sans', sans-serif" stroke="#000" stroke-width="0.3" font-size="29.4">0</text>
<rect x="768.4" y="345.8" width="9.8" height="2" fill="#000"/>
<text x="778.5" y="352.9" font-family="'Liberation Sans', sans-serif" stroke="#000" stroke-width="0.3" font-size="21.4">5</text>
<path transform="translate(737.3 498.5)" d="M8.1 -20.4V0H5.3V-14.6H0V-16.7C2.8 -16.7 5.1 -17.6 5.85 -20.4Z" fill="#000"/>
<text x="750.8" y="498.5" font-family="'Liberation Sans', sans-serif" stroke="#000" stroke-width="0.3" font-size="29.4">0</text>
<rect x="768.4" y="479.8" width="9.8" height="2" fill="#000"/>
<text x="778.5" y="486.9" font-family="'Liberation Sans', sans-serif" stroke="#000" stroke-width="0.3" font-size="21.4">6</text>
<path transform="translate(737.3 632.5)" d="M8.1 -20.4V0H5.3V-14.6H0V-16.7C2.8 -16.7 5.1 -17.6 5.85 -20.4Z" fill="#000"/>
<text x="750.8" y="632.5" font-family="'Liberation Sans', sans-serif" stroke="#000" stroke-width="0.3" font-size="29.4">0</text>
<rect x="768.4" y="613.8" width="9.8" height="2" fill="#000"/>
<text x="778.5" y="620.9" font-family="'Liberation Sans', sans-serif" stroke="#000" stroke-width="0.3" font-size="21.4">7</text>
<path transform="translate(774.4 652.2)" d="M8.1 -20.4V0H5.3V-14.6H0V-16.7C2.8 -16.7 5.1 -17.6 5.85 -20.4Z" fill="#000"/>
<text x="787.9" y="652.2" font-family="'Liberation Sans', sans-serif" stroke="#000" stroke-width="0.3" font-size="29.4">0</text>
<text x="803.5" y="640.7" font-family="'Liberation Sans', sans-serif" stroke="#000" stroke-width="0.3" font-size="21.4">6</text>
<path transform="translate(953 652.2)" d="M8.1 -20.4V0H5.3V-14.6H0V-16.7C2.8 -16.7 5.1 -17.6 5.85 -20.4Z" fill="#000"/>
<text x="966.5" y="652.2" font-family="'Liberation Sans', sans-serif" stroke="#000" stroke-width="0.3" font-size="29.4">0</text>
<text x="982.1" y="640.7" font-family="'Liberation Sans', sans-serif" stroke="#000" stroke-width="0.3" font-size="21.4">7</text>
<path transform="translate(1131.5 652.2)" d="M8.1 -20.4V0H5.3V-14.6H0V-16.7C2.8 -16.7 5.1 -17.6 5.85 -20.4Z" fill="#000"/>
<text x="1145" y="652.2" font-family="'Liberation Sans', sans-serif" stroke="#000" stroke-width="0.3" font-size="29.4">0</text>
<text x="1160.6" y="640.7" font-family="'Liberation Sans', sans-serif" stroke="#000" stroke-width="0.3" font-size="21.4">8</text>
<path transform="translate(1310.1 652.2)" d="M8.1 -20.4V0H5.3V-14.6H0V-16.7C2.8 -16.7 5.1 -17.6 5.85 -20.4Z" fill="#000"/>
<text x="1323.6" y="652.2" font-family="'Liberation Sans', sans-serif" stroke="#000" stroke-width="0.3" font-size="29.4">0</text>
<text x="1339.2" y="640.7" font-family="'Liberation Sans', sans-serif" stroke="#000" stroke-width="0.3" font-size="21.4">9</text>
<rect x="803.8" y="505.6" width="17.6" height="17.5" fill="#6b6bee"/>
<rect x="803.8" y="545.7" width="17.6" height="17.5" fill="#bf4040"/>
<rect x="803.8" y="586" width="17.6" height="17.5" fill="#40bf40"/>
<text x="806.6" y="486.2" font-family="'Liberation Serif', serif" font-size="39">Vectors</text>
<text transform="translate(834.5 522.8) scale(1.1 1)" font-family="'Liberation Serif', serif" font-size="37" font-style="italic">μ</text>
<path d="M867.2 511h25M867.2 518h25" stroke="#000" stroke-width="1.5" fill="none"/>
<text x="903.2" y="522.8" font-family="'Liberation Serif', serif" font-size="37" letter-spacing="-1">10</text>
<rect x="942.3" y="500.9" width="15.6" height="1.5" fill="#000"/>
<text x="959.5" y="509.1" font-family="'Liberation Serif', serif" font-size="26" letter-spacing="-0.4">19</text>
<text transform="translate(993.8 522.8) scale(0.95 1)" font-family="'Liberation Serif', serif" font-size="37" letter-spacing="-1.2">eV</text>
<text transform="translate(834.5 563.2) scale(1.1 1)" font-family="'Liberation Serif', serif" font-size="37" font-style="italic">μ</text>
<path d="M867.2 551.4h25M867.2 558.4h25" stroke="#000" stroke-width="1.5" fill="none"/>
<text x="902.8" y="563.2" font-family="'Liberation Serif', serif" font-size="37">5</text>
<circle cx="934.5" cy="554" r="2" fill="#000"/>
<text x="948.4" y="563.2" font-family="'Liberation Serif', serif" font-size="37" letter-spacing="-1">10</text>
<rect x="987.5" y="541.3" width="15.6" height="1.5" fill="#000"/>
<text x="1004.7" y="549.5" font-family="'Liberation Serif', serif" font-size="26" letter-spacing="-0.4">19</text>
<text transform="translate(1039 563.2) scale(0.95 1)" font-family="'Liberation Serif', serif" font-size="37" letter-spacing="-1.2">eV</text>
<text transform="translate(834.5 603.6) scale(1.1 1)" font-family="'Liberation Serif', serif" font-size="37" font-style="italic">μ</text>
<path d="M867.2 591.8h25M867.2 598.8h25" stroke="#000" stroke-width="1.5" fill="none"/>
<text x="903.2" y="603.6" font-family="'Liberation Serif', serif" font-size="37" letter-spacing="-1">10</text>
<rect x="942.3" y="581.7" width="15.6" height="1.5" fill="#000"/>
<text x="959.5" y="589.9" font-family="'Liberation Serif', serif" font-size="26" letter-spacing="-0.4">18</text>
<text transform="translate(993.8 603.6) scale(0.95 1)" font-family="'Liberation Serif', serif" font-size="37" letter-spacing="-1.2">eV</text>
<g transform="translate(1108.8 445.7) rotate(86)">
<text x="0" y="0" font-family="'Liberation Serif', serif" font-size="37.5" font-style="italic">a</text>
<path d="M30.2 -12.5h25M30.2 -5.5h25" stroke="#000" stroke-width="1.5" fill="none"/>
<text x="66.5" y="0" font-family="'Liberation Serif', serif" font-size="37.5">0</text>
</g>
<g transform="translate(1273.3 415.4) rotate(80.1)">
<text x="0" y="0" font-family="'Liberation Serif', serif" font-size="37.5" font-style="italic">a</text>
<path d="M30.2 -12.5h25M30.2 -5.5h25" stroke="#000" stroke-width="1.5" fill="none"/>
<text x="66.5" y="0" font-family="'Liberation Serif', serif" font-size="37.5" letter-spacing="0">0.998</text>
</g>
<g transform="translate(713.9 464.5) rotate(-90)">
<text transform="translate(1.6 0) scale(0.96 1)" font-family="'Liberation Serif', serif" font-size="40" font-style="italic">N</text>
<circle cx="18.6" cy="-32" r="1.9" fill="#000"/>
<text transform="translate(30.4 5.9) scale(1.07 1)" font-family="'Liberation Serif', serif" font-size="20.4" letter-spacing="1.5">TDE</text>
<path d="M105.6 -27.6h-5.4v36h5.4" fill="none" stroke="#000" stroke-width="1.5"/>
<text x="106.6" y="0" font-family="'Liberation Serif', serif" font-size="37.5" letter-spacing="0.35">year</text>
<rect x="174.6" y="-22.7" width="15.4" height="1.5" fill="#000"/>
<text x="193.5" y="-16.3" font-family="'Liberation Serif', serif" font-size="26">1</text>
<path d="M207.8 -27.6h5.4v36h-5.4" fill="none" stroke="#000" stroke-width="1.5"/>
</g>
<text transform="translate(969.7 703.7) scale(1.07 1)" font-family="'Liberation Serif', serif" font-size="37.5" font-style="italic">M</text>
<text transform="translate(1004.1 709.3) scale(1.06 1)" font-family="'Liberation Serif', serif" font-size="19.4" letter-spacing="1.2">BH</text>
<path d="M1052 676.6h-5.2v37h5.2" fill="none" stroke="#000" stroke-width="1.5"/>
<text transform="translate(1054.8 703.7) scale(1.07 1)" font-family="'Liberation Serif', serif" font-size="37.5" font-style="italic">M</text>
<circle cx="1097.2" cy="703.6" r="8.6" fill="none" stroke="#000" stroke-width="1.3"/>
<circle cx="1097.2" cy="703.6" r="2" fill="#000"/>
<path d="M1110 676.6h5.2v37h-5.2" fill="none" stroke="#000" stroke-width="1.5"/>
</svg>
</body>
</html>
